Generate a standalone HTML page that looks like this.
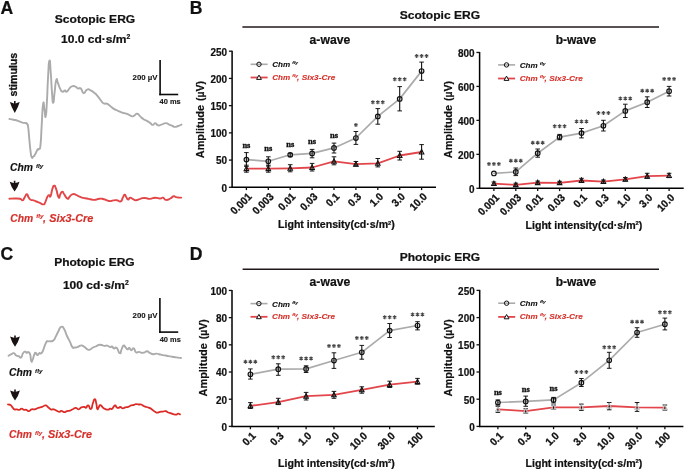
<!DOCTYPE html>
<html><head><meta charset="utf-8"><style>
html,body{margin:0;padding:0;background:#fff;}
svg{display:block;font-family:"Liberation Sans", sans-serif;filter:blur(0.3px);}
</style></head><body>
<svg width="685" height="470" viewBox="0 0 685 470">
<rect width="685" height="470" fill="#fff"/>
<text x="0.6" y="13.8" font-size="17.6" font-weight="bold" fill="#111" stroke="#111" stroke-width="0.22">A</text>
<text x="189.8" y="13.9" font-size="17.6" font-weight="bold" fill="#111" stroke="#111" stroke-width="0.22">B</text>
<text x="0.4" y="259.5" font-size="17.6" font-weight="bold" fill="#111" stroke="#111" stroke-width="0.22">C</text>
<text x="189.8" y="259.8" font-size="17.6" font-weight="bold" fill="#111" stroke="#111" stroke-width="0.22">D</text>
<text x="95" y="23" font-size="11.2" font-weight="bold" text-anchor="middle" textLength="80.5" lengthAdjust="spacingAndGlyphs" fill="#111" stroke="#111" stroke-width="0.22">Scotopic ERG</text>
<text x="61.0" y="43.1" font-size="11.2" font-weight="bold" textLength="69.3" lengthAdjust="spacingAndGlyphs" fill="#111" stroke="#111" stroke-width="0.22">10.0 cd·s/m<tspan font-size="6.3" dy="-4.1">2</tspan></text>
<text transform="translate(17.4,96.4) rotate(-90)" font-size="10.6" font-weight="bold" fill="#111" stroke="#111" stroke-width="0.3" textLength="43.6" lengthAdjust="spacingAndGlyphs">stimulus</text>
<path d="M14.00,101.10 L15.60,101.10 L15.60,103.40 Q17.40,102.80 19.70,102.10 Q18.40,107.10 14.80,112.90 Q11.20,107.10 9.90,102.10 Q12.20,102.80 14.00,103.40 Z" fill="#1a1212"/>
<path d="M9.40,119.00 C10.73,119.23 10.57,119.10 13.40,119.70 C16.23,120.30 14.93,119.83 17.90,120.80 C20.87,121.77 19.70,121.87 22.30,122.60 C24.90,123.33 24.07,122.47 25.70,123.00 C27.33,123.53 26.37,122.73 27.20,124.20 C28.03,125.67 27.50,122.43 28.20,127.40 C28.90,132.37 28.53,131.30 29.30,139.10 C30.07,146.90 29.70,144.80 30.50,150.80 C31.30,156.80 30.77,155.17 31.70,157.10 C32.63,159.03 32.13,157.53 33.30,156.60 C34.47,155.67 33.80,156.63 35.20,154.30 C36.60,151.97 36.17,151.40 37.50,149.60 C38.83,147.80 38.17,150.83 39.20,148.90 C40.23,146.97 39.77,151.73 40.60,143.80 C41.43,135.87 40.87,138.33 41.70,125.10 C42.53,111.87 42.17,109.17 43.10,104.10 C44.03,99.03 43.63,105.87 44.50,109.90 C45.37,113.93 44.90,118.93 45.70,116.20 C46.50,113.47 46.13,114.30 46.90,101.70 C47.67,89.10 47.17,92.03 48.00,78.40 C48.83,64.77 48.47,62.37 49.40,60.80 C50.33,59.23 49.93,63.17 50.80,73.70 C51.67,84.23 51.20,82.67 52.00,92.40 C52.80,102.13 52.33,102.90 53.20,102.90 C54.07,102.90 53.60,99.97 54.60,92.40 C55.60,84.83 55.10,83.33 56.20,80.20 C57.30,77.07 56.57,80.10 57.90,83.00 C59.23,85.90 58.67,86.00 60.20,88.90 C61.73,91.80 60.93,91.17 62.50,91.70 C64.07,92.23 63.50,90.50 64.90,90.50 C66.30,90.50 65.30,92.23 66.70,91.70 C68.10,91.17 67.53,90.57 69.10,88.90 C70.67,87.23 69.50,87.57 71.40,86.70 C73.30,85.83 72.57,85.70 74.80,86.30 C77.03,86.90 76.10,87.77 78.10,88.50 C80.10,89.23 78.93,87.00 80.80,88.50 C82.67,90.00 81.63,92.63 83.70,93.00 C85.77,93.37 84.77,90.50 87.00,89.60 C89.23,88.70 87.90,89.17 90.40,90.30 C92.90,91.43 92.03,91.00 94.50,93.00 C96.97,95.00 95.57,93.70 97.80,96.30 C100.03,98.90 99.20,98.43 101.20,100.80 C103.20,103.17 101.97,102.43 103.80,103.40 C105.63,104.37 104.60,102.87 106.70,103.70 C108.80,104.53 107.87,104.27 110.10,105.90 C112.33,107.53 110.80,106.97 113.40,108.60 C116.00,110.23 114.90,109.47 117.90,110.80 C120.90,112.13 119.80,111.70 122.40,112.60 C125.00,113.50 123.50,112.77 125.70,113.50 C127.90,114.23 126.77,113.83 129.00,114.80 C131.23,115.77 130.53,116.23 132.40,116.40 C134.27,116.57 132.97,116.20 134.60,115.30 C136.23,114.40 135.43,113.33 137.30,113.70 C139.17,114.07 138.10,114.53 140.20,116.40 C142.30,118.27 141.37,117.83 143.60,119.30 C145.83,120.77 144.67,119.53 146.90,120.80 C149.13,122.07 148.30,121.73 150.30,123.10 C152.30,124.47 151.27,124.90 152.90,124.90 C154.53,124.90 153.47,122.97 155.20,123.10 C156.93,123.23 156.03,124.80 158.10,125.30 C160.17,125.80 158.80,125.33 161.40,124.60 C164.00,123.87 163.30,123.10 165.90,123.10 C168.50,123.10 166.97,123.63 169.20,124.60 C171.43,125.57 170.73,125.23 172.60,126.00 C174.47,126.77 172.93,126.90 174.80,126.90 C176.67,126.90 175.97,126.77 178.20,126.00 C180.43,125.23 180.40,125.07 181.50,124.60" fill="none" stroke="#ababab" stroke-width="1.9" stroke-linejoin="round" stroke-linecap="round"/>
<line x1="160.1" y1="60.1" x2="160.1" y2="95.3" stroke="#0a0a0a" stroke-width="1.6"/>
<line x1="159.3" y1="94.5" x2="178.2" y2="94.5" stroke="#0a0a0a" stroke-width="1.6"/>
<text x="157.6" y="80" font-size="7.6" font-weight="bold" text-anchor="end" textLength="25" lengthAdjust="spacingAndGlyphs" fill="#111" stroke="#111" stroke-width="0.1">200 µV</text>
<text x="159.5" y="104.1" font-size="7.6" font-weight="bold" textLength="21.2" lengthAdjust="spacingAndGlyphs" fill="#111" stroke="#111" stroke-width="0.1">40 ms</text>
<text x="10.0" y="171.4" font-size="10" font-weight="bold" font-style="italic" textLength="22.9" lengthAdjust="spacingAndGlyphs" fill="#111" stroke="#111" stroke-width="0.15">Chm</text>
<text x="36.0" y="168.1" font-size="5.6" font-weight="bold" font-style="italic" textLength="7.4" lengthAdjust="spacingAndGlyphs" fill="#111" stroke="#111" stroke-width="0.1">fly</text>
<path d="M13.80,180.70 L15.40,180.70 L15.40,183.00 Q17.20,182.40 19.50,181.70 Q18.20,186.70 14.60,191.60 Q11.00,186.70 9.70,181.70 Q12.00,182.40 13.80,183.00 Z" fill="#1a1212"/>
<path d="M9.40,198.80 C11.10,198.70 11.00,198.50 14.50,198.50 C18.00,198.50 17.20,198.20 19.90,198.80 C22.60,199.40 21.10,200.60 22.60,200.30 C24.10,200.00 23.00,199.90 24.40,197.90 C25.80,195.90 25.40,194.47 26.80,194.30 C28.20,194.13 27.30,195.60 28.60,197.40 C29.90,199.20 29.07,198.73 30.70,199.70 C32.33,200.67 31.67,199.70 33.50,200.30 C35.33,200.90 34.10,200.67 36.20,201.50 C38.30,202.33 37.40,201.83 39.80,202.80 C42.20,203.77 41.60,204.53 43.40,204.40 C45.20,204.27 43.87,204.97 45.20,202.40 C46.53,199.83 46.07,199.10 47.40,196.70 C48.73,194.30 48.13,195.40 49.20,195.20 C50.27,195.00 49.53,198.20 50.60,196.10 C51.67,194.00 51.20,192.33 52.40,188.90 C53.60,185.47 52.97,185.80 54.20,185.80 C55.43,185.80 54.63,185.07 56.10,188.90 C57.57,192.73 57.20,195.50 58.60,197.30 C60.00,199.10 59.07,196.20 60.30,194.30 C61.53,192.40 61.00,191.60 62.30,191.60 C63.60,191.60 62.50,191.97 64.20,194.30 C65.90,196.63 65.60,197.80 67.40,198.60 C69.20,199.40 67.97,198.13 69.60,196.70 C71.23,195.27 70.20,194.93 72.30,194.30 C74.40,193.67 73.47,194.00 75.90,194.80 C78.33,195.60 77.17,195.67 79.60,196.70 C82.03,197.73 80.80,197.30 83.20,197.90 C85.60,198.50 84.40,198.07 86.80,198.50 C89.20,198.93 87.87,198.73 90.40,199.20 C92.93,199.67 91.37,200.03 94.40,199.90 C97.43,199.77 96.33,199.03 99.50,198.80 C102.67,198.57 100.73,198.47 103.90,199.20 C107.07,199.93 105.83,200.60 109.00,201.00 C112.17,201.40 110.73,200.67 113.40,200.40 C116.07,200.13 114.57,199.87 117.00,200.20 C119.43,200.53 118.77,202.23 120.70,201.40 C122.63,200.57 121.50,199.90 122.80,197.70 C124.10,195.50 123.47,195.03 124.60,194.80 C125.73,194.57 125.00,195.40 126.20,197.00 C127.40,198.60 126.90,199.37 128.20,199.60 C129.50,199.83 128.47,197.83 130.10,197.70 C131.73,197.57 131.13,198.37 133.10,199.20 C135.07,200.03 133.57,200.33 136.00,200.20 C138.43,200.07 137.50,199.53 140.40,198.80 C143.30,198.07 141.53,197.97 144.70,198.00 C147.87,198.03 146.47,199.00 149.90,198.90 C153.33,198.80 151.63,197.83 155.00,197.70 C158.37,197.57 157.33,198.50 160.00,198.50 C162.67,198.50 161.03,197.23 163.00,197.70 C164.97,198.17 163.47,199.63 165.90,199.90 C168.33,200.17 167.77,199.70 170.30,198.50 C172.83,197.30 171.57,196.73 173.50,196.30 C175.43,195.87 174.27,196.77 176.10,197.20 C177.93,197.63 177.30,197.47 179.00,197.60 C180.70,197.73 180.47,197.60 181.20,197.60" fill="none" stroke="#e24647" stroke-width="1.9" stroke-linejoin="round" stroke-linecap="round"/>
<text x="10.2" y="221.6" font-size="10" font-weight="bold" font-style="italic" textLength="22.9" lengthAdjust="spacingAndGlyphs" fill="#d5302a" stroke="#d5302a" stroke-width="0.15">Chm</text>
<text x="36.2" y="218.29999999999998" font-size="5.6" font-weight="bold" font-style="italic" textLength="7.4" lengthAdjust="spacingAndGlyphs" fill="#d5302a" stroke="#d5302a" stroke-width="0.1">fly</text>
<text x="43.099999999999994" y="221.6" font-size="10" font-weight="bold" font-style="italic" textLength="50.2" lengthAdjust="spacingAndGlyphs" fill="#d5302a" stroke="#d5302a" stroke-width="0.15">, Six3-Cre</text>
<text x="94.4" y="266.4" font-size="11.2" font-weight="bold" text-anchor="middle" textLength="80.5" lengthAdjust="spacingAndGlyphs" fill="#111" stroke="#111" stroke-width="0.22">Photopic ERG</text>
<text x="62.9" y="288.8" font-size="11.2" font-weight="bold" textLength="65.8" lengthAdjust="spacingAndGlyphs" fill="#111" stroke="#111" stroke-width="0.22">100 cd·s/m<tspan font-size="6.3" dy="-4.1">2</tspan></text>
<path d="M14.20,335.40 L15.80,335.40 L15.80,337.70 Q17.60,337.10 19.90,336.40 Q18.60,341.40 15.00,346.80 Q11.40,341.40 10.10,336.40 Q12.40,337.10 14.20,337.70 Z" fill="#1a1212"/>
<path d="M8.60,355.70 C9.57,355.20 9.77,355.03 11.50,354.20 C13.23,353.37 12.20,352.77 13.80,353.20 C15.40,353.63 14.70,354.53 16.30,355.50 C17.90,356.47 17.00,355.47 18.60,356.10 C20.20,356.73 19.63,358.37 21.10,357.40 C22.57,356.43 21.60,355.10 23.00,353.20 C24.40,351.30 24.03,351.83 25.30,351.70 C26.57,351.57 25.67,352.60 26.80,352.80 C27.93,353.00 27.53,351.53 28.70,352.30 C29.87,353.07 29.47,352.23 30.30,355.10 C31.13,357.97 30.43,359.30 31.20,360.90 C31.97,362.50 31.63,361.83 32.60,359.90 C33.57,357.97 33.10,357.47 34.10,355.10 C35.10,352.73 34.50,352.80 35.60,352.80 C36.70,352.80 36.17,354.97 37.40,355.10 C38.63,355.23 38.03,353.83 39.30,353.20 C40.57,352.57 39.93,354.17 41.20,353.20 C42.47,352.23 41.50,353.80 43.10,350.30 C44.70,346.80 44.27,345.70 46.00,342.70 C47.73,339.70 46.70,341.77 48.30,341.30 C49.90,340.83 49.03,341.67 50.80,341.30 C52.57,340.93 52.00,341.67 53.60,340.20 C55.20,338.73 54.00,339.90 55.60,336.90 C57.20,333.90 56.50,334.57 58.40,331.20 C60.30,327.83 59.37,327.43 61.30,326.80 C63.23,326.17 62.30,326.23 64.20,329.30 C66.10,332.37 65.10,331.87 67.00,336.00 C68.90,340.13 68.10,338.00 69.90,341.70 C71.70,345.40 70.80,345.17 72.40,347.10 C74.00,349.03 72.97,347.50 74.70,347.50 C76.43,347.50 75.67,347.73 77.60,347.10 C79.53,346.47 78.60,345.93 80.50,345.60 C82.40,345.27 81.40,345.17 83.30,346.10 C85.20,347.03 84.27,347.17 86.20,348.40 C88.13,349.63 86.87,350.10 89.10,349.80 C91.33,349.50 90.70,348.60 92.90,347.50 C95.10,346.40 93.80,347.33 95.70,346.50 C97.60,345.67 96.67,345.50 98.60,345.00 C100.53,344.50 99.57,344.70 101.50,345.00 C103.43,345.30 102.50,345.70 104.40,345.90 C106.30,346.10 105.30,345.20 107.20,345.60 C109.10,346.00 108.50,346.80 110.10,347.10 C111.70,347.40 110.73,346.07 112.00,346.50 C113.27,346.93 112.30,347.93 113.90,348.40 C115.50,348.87 114.87,346.30 116.80,347.90 C118.73,349.50 118.10,352.70 119.70,353.20 C121.30,353.70 120.33,351.93 121.60,349.40 C122.87,346.87 122.23,346.37 123.50,345.60 C124.77,344.83 124.10,345.83 125.40,347.10 C126.70,348.37 126.10,349.10 127.40,349.40 C128.70,349.70 128.03,347.70 129.30,348.00 C130.57,348.30 129.73,350.17 131.20,350.30 C132.67,350.43 132.10,347.73 133.70,348.40 C135.30,349.07 134.27,351.13 136.00,352.30 C137.73,353.47 137.00,351.73 138.90,351.90 C140.80,352.07 139.80,352.67 141.70,352.80 C143.60,352.93 142.80,352.80 144.60,352.30 C146.40,351.80 145.37,351.13 147.10,351.30 C148.83,351.47 147.77,351.83 149.80,352.80 C151.83,353.77 151.10,353.93 153.20,354.20 C155.30,354.47 154.17,353.60 156.10,353.60 C158.03,353.60 156.77,353.70 159.00,354.20 C161.23,354.70 160.57,354.67 162.80,355.10 C165.03,355.53 163.80,355.17 165.70,355.50 C167.60,355.83 166.27,355.70 168.50,356.10 C170.73,356.50 169.83,356.27 172.40,356.70 C174.97,357.13 173.33,356.97 176.20,357.40 C179.07,357.83 179.40,357.80 181.00,358.00" fill="none" stroke="#ababab" stroke-width="1.9" stroke-linejoin="round" stroke-linecap="round"/>
<line x1="159.9" y1="298" x2="159.9" y2="332.9" stroke="#0a0a0a" stroke-width="1.6"/>
<line x1="159.1" y1="332.1" x2="178.2" y2="332.1" stroke="#0a0a0a" stroke-width="1.6"/>
<text x="157.6" y="317.8" font-size="7.6" font-weight="bold" text-anchor="end" textLength="25" lengthAdjust="spacingAndGlyphs" fill="#111" stroke="#111" stroke-width="0.1">200 µV</text>
<text x="159.7" y="341.7" font-size="7.6" font-weight="bold" textLength="21.2" lengthAdjust="spacingAndGlyphs" fill="#111" stroke="#111" stroke-width="0.1">40 ms</text>
<text x="9.1" y="376.2" font-size="10" font-weight="bold" font-style="italic" textLength="22.9" lengthAdjust="spacingAndGlyphs" fill="#111" stroke="#111" stroke-width="0.15">Chm</text>
<text x="35.1" y="372.9" font-size="5.6" font-weight="bold" font-style="italic" textLength="7.4" lengthAdjust="spacingAndGlyphs" fill="#111" stroke="#111" stroke-width="0.1">fly</text>
<path d="M14.20,389.40 L15.80,389.40 L15.80,391.70 Q17.60,391.10 19.90,390.40 Q18.60,395.40 15.00,400.60 Q11.40,395.40 10.10,390.40 Q12.40,391.10 14.20,391.70 Z" fill="#1a1212"/>
<path d="M8.00,404.50 C8.83,404.70 9.00,404.13 10.50,405.10 C12.00,406.07 11.20,406.00 12.50,407.40 C13.80,408.80 12.93,408.67 14.40,409.30 C15.87,409.93 15.30,409.13 16.90,409.30 C18.50,409.47 17.67,410.00 19.20,409.80 C20.73,409.60 19.93,408.70 21.50,408.70 C23.07,408.70 22.27,409.43 23.90,409.80 C25.53,410.17 24.80,409.33 26.40,409.80 C28.00,410.27 26.97,411.37 28.70,411.20 C30.43,411.03 29.67,409.93 31.60,409.30 C33.53,408.67 32.27,409.77 34.50,409.30 C36.73,408.83 35.77,408.73 38.30,407.90 C40.83,407.07 39.67,407.63 42.10,406.80 C44.53,405.97 43.67,405.33 45.60,405.40 C47.53,405.47 46.17,405.70 47.90,407.00 C49.63,408.30 48.90,408.53 50.80,409.30 C52.70,410.07 51.70,408.87 53.60,409.30 C55.50,409.73 54.57,409.77 56.50,410.60 C58.43,411.43 57.80,411.73 59.40,411.80 C61.00,411.87 59.70,410.70 61.30,410.80 C62.90,410.90 62.30,411.97 64.20,412.10 C66.10,412.23 65.10,411.70 67.00,411.20 C68.90,410.70 67.97,411.23 69.90,410.60 C71.83,409.97 70.87,410.20 72.80,409.30 C74.73,408.40 73.80,407.90 75.70,407.90 C77.60,407.90 76.60,409.47 78.50,409.30 C80.40,409.13 79.47,408.17 81.40,407.40 C83.33,406.63 82.70,406.93 84.30,407.00 C85.90,407.07 84.90,408.13 86.20,407.60 C87.50,407.07 86.60,404.93 88.20,405.40 C89.80,405.87 89.47,409.63 91.00,409.00 C92.53,408.37 91.53,406.77 92.80,403.50 C94.07,400.23 93.63,399.20 94.80,399.20 C95.97,399.20 95.47,400.23 96.30,403.50 C97.13,406.77 96.47,407.77 97.30,409.00 C98.13,410.23 97.73,408.47 98.80,407.20 C99.87,405.93 98.87,404.87 100.50,405.20 C102.13,405.53 101.33,406.70 103.70,408.20 C106.07,409.70 105.47,409.53 107.60,409.70 C109.73,409.87 108.63,408.97 110.10,408.70 C111.57,408.43 110.73,409.67 112.00,408.90 C113.27,408.13 112.80,407.57 113.90,406.40 C115.00,405.23 114.33,405.07 115.30,405.40 C116.27,405.73 115.67,406.57 116.80,407.40 C117.93,408.23 117.53,408.03 118.70,407.90 C119.87,407.77 119.00,406.87 120.30,407.00 C121.60,407.13 120.90,408.17 122.60,408.30 C124.30,408.43 123.50,407.90 125.40,407.40 C127.30,406.90 126.37,407.47 128.30,406.80 C130.23,406.13 129.27,406.03 131.20,405.40 C133.13,404.77 132.50,405.33 134.10,404.90 C135.70,404.47 134.40,404.23 136.00,404.10 C137.60,403.97 137.13,404.37 138.90,404.50 C140.67,404.63 139.73,404.00 141.30,404.50 C142.87,405.00 141.87,405.17 143.60,406.00 C145.33,406.83 144.57,406.37 146.50,407.00 C148.43,407.63 147.47,407.00 149.40,407.90 C151.33,408.80 150.40,408.40 152.30,409.70 C154.20,411.00 153.40,410.80 155.10,411.80 C156.80,412.80 155.80,412.70 157.40,412.70 C159.00,412.70 158.10,412.17 159.90,411.80 C161.70,411.43 160.87,411.80 162.80,411.60 C164.73,411.40 163.90,410.90 165.70,411.20 C167.50,411.50 166.60,411.87 168.20,412.50 C169.80,413.13 168.80,412.57 170.50,413.10 C172.20,413.63 171.40,413.60 173.30,414.10 C175.20,414.60 174.60,414.73 176.20,414.60 C177.80,414.47 176.83,413.77 178.10,413.70 C179.37,413.63 179.37,414.17 180.00,414.40" fill="none" stroke="#dc2b26" stroke-width="1.8" stroke-linejoin="round" stroke-linecap="round"/>
<text x="9" y="437.8" font-size="10" font-weight="bold" font-style="italic" textLength="22.9" lengthAdjust="spacingAndGlyphs" fill="#d5302a" stroke="#d5302a" stroke-width="0.15">Chm</text>
<text x="35.0" y="434.5" font-size="5.6" font-weight="bold" font-style="italic" textLength="7.4" lengthAdjust="spacingAndGlyphs" fill="#d5302a" stroke="#d5302a" stroke-width="0.1">fly</text>
<text x="41.9" y="437.8" font-size="10" font-weight="bold" font-style="italic" textLength="50.2" lengthAdjust="spacingAndGlyphs" fill="#d5302a" stroke="#d5302a" stroke-width="0.15">, Six3-Cre</text>
<text x="439.9" y="19.0" font-size="11.2" font-weight="bold" text-anchor="middle" textLength="80.5" lengthAdjust="spacingAndGlyphs" fill="#111" stroke="#111" stroke-width="0.22">Scotopic ERG</text>
<line x1="242.4" y1="27.0" x2="659" y2="27.0" stroke="#201818" stroke-width="1.5"/>
<text x="439.9" y="261.2" font-size="11.2" font-weight="bold" text-anchor="middle" textLength="80.5" lengthAdjust="spacingAndGlyphs" fill="#111" stroke="#111" stroke-width="0.22">Photopic ERG</text>
<line x1="242.6" y1="269.25" x2="659" y2="269.25" stroke="#201818" stroke-width="1.5"/>
<line x1="232.1" y1="50.7" x2="232.1" y2="188.0" stroke="#000" stroke-width="1.5"/>
<line x1="231.35" y1="187.3" x2="436" y2="187.3" stroke="#000" stroke-width="1.5"/>
<line x1="228.9" y1="187.3" x2="232.1" y2="187.3" stroke="#111" stroke-width="1.3"/>
<text x="227.1" y="191.60000000000002" font-size="10.1" font-weight="bold" text-anchor="end" textLength="5.533333333333334" lengthAdjust="spacingAndGlyphs" fill="#111" stroke="#111" stroke-width="0.2">0</text>
<line x1="228.9" y1="160.08" x2="232.1" y2="160.08" stroke="#111" stroke-width="1.3"/>
<text x="227.1" y="164.38000000000002" font-size="10.1" font-weight="bold" text-anchor="end" textLength="11.066666666666668" lengthAdjust="spacingAndGlyphs" fill="#111" stroke="#111" stroke-width="0.2">50</text>
<line x1="228.9" y1="132.86" x2="232.1" y2="132.86" stroke="#111" stroke-width="1.3"/>
<text x="227.1" y="137.16000000000003" font-size="10.1" font-weight="bold" text-anchor="end" textLength="16.6" lengthAdjust="spacingAndGlyphs" fill="#111" stroke="#111" stroke-width="0.2">100</text>
<line x1="228.9" y1="105.64" x2="232.1" y2="105.64" stroke="#111" stroke-width="1.3"/>
<text x="227.1" y="109.94" font-size="10.1" font-weight="bold" text-anchor="end" textLength="16.6" lengthAdjust="spacingAndGlyphs" fill="#111" stroke="#111" stroke-width="0.2">150</text>
<line x1="228.9" y1="78.41999999999999" x2="232.1" y2="78.41999999999999" stroke="#111" stroke-width="1.3"/>
<text x="227.1" y="82.71999999999998" font-size="10.1" font-weight="bold" text-anchor="end" textLength="16.6" lengthAdjust="spacingAndGlyphs" fill="#111" stroke="#111" stroke-width="0.2">200</text>
<line x1="228.9" y1="51.19999999999999" x2="232.1" y2="51.19999999999999" stroke="#111" stroke-width="1.3"/>
<text x="227.1" y="55.499999999999986" font-size="10.1" font-weight="bold" text-anchor="end" textLength="16.6" lengthAdjust="spacingAndGlyphs" fill="#111" stroke="#111" stroke-width="0.2">250</text>
<line x1="246.4" y1="187.3" x2="246.4" y2="190.10000000000002" stroke="#111" stroke-width="1.3"/>
<text transform="translate(252.50,197.40) rotate(-45)" font-size="10.7" font-weight="bold" text-anchor="end" fill="#111" stroke="#111" stroke-width="0.3" textLength="25.02" lengthAdjust="spacingAndGlyphs">0.001</text>
<line x1="268.3" y1="187.3" x2="268.3" y2="190.10000000000002" stroke="#111" stroke-width="1.3"/>
<text transform="translate(274.40,197.40) rotate(-45)" font-size="10.7" font-weight="bold" text-anchor="end" fill="#111" stroke="#111" stroke-width="0.3" textLength="25.02" lengthAdjust="spacingAndGlyphs">0.003</text>
<line x1="290.2" y1="187.3" x2="290.2" y2="190.10000000000002" stroke="#111" stroke-width="1.3"/>
<text transform="translate(296.30,197.40) rotate(-45)" font-size="10.7" font-weight="bold" text-anchor="end" fill="#111" stroke="#111" stroke-width="0.3" textLength="19.46" lengthAdjust="spacingAndGlyphs">0.01</text>
<line x1="312.1" y1="187.3" x2="312.1" y2="190.10000000000002" stroke="#111" stroke-width="1.3"/>
<text transform="translate(318.20,197.40) rotate(-45)" font-size="10.7" font-weight="bold" text-anchor="end" fill="#111" stroke="#111" stroke-width="0.3" textLength="19.46" lengthAdjust="spacingAndGlyphs">0.03</text>
<line x1="334.0" y1="187.3" x2="334.0" y2="190.10000000000002" stroke="#111" stroke-width="1.3"/>
<text transform="translate(340.10,197.40) rotate(-45)" font-size="10.7" font-weight="bold" text-anchor="end" fill="#111" stroke="#111" stroke-width="0.3" textLength="13.90" lengthAdjust="spacingAndGlyphs">0.1</text>
<line x1="355.9" y1="187.3" x2="355.9" y2="190.10000000000002" stroke="#111" stroke-width="1.3"/>
<text transform="translate(362.00,197.40) rotate(-45)" font-size="10.7" font-weight="bold" text-anchor="end" fill="#111" stroke="#111" stroke-width="0.3" textLength="13.90" lengthAdjust="spacingAndGlyphs">0.3</text>
<line x1="377.79999999999995" y1="187.3" x2="377.79999999999995" y2="190.10000000000002" stroke="#111" stroke-width="1.3"/>
<text transform="translate(383.90,197.40) rotate(-45)" font-size="10.7" font-weight="bold" text-anchor="end" fill="#111" stroke="#111" stroke-width="0.3" textLength="13.90" lengthAdjust="spacingAndGlyphs">1.0</text>
<line x1="399.7" y1="187.3" x2="399.7" y2="190.10000000000002" stroke="#111" stroke-width="1.3"/>
<text transform="translate(405.80,197.40) rotate(-45)" font-size="10.7" font-weight="bold" text-anchor="end" fill="#111" stroke="#111" stroke-width="0.3" textLength="13.90" lengthAdjust="spacingAndGlyphs">3.0</text>
<line x1="421.6" y1="187.3" x2="421.6" y2="190.10000000000002" stroke="#111" stroke-width="1.3"/>
<text transform="translate(427.70,197.40) rotate(-45)" font-size="10.7" font-weight="bold" text-anchor="end" fill="#111" stroke="#111" stroke-width="0.3" textLength="19.46" lengthAdjust="spacingAndGlyphs">10.0</text>
<text x="329.9" y="43.5" font-size="12.6" font-weight="bold" text-anchor="middle" textLength="40.6" lengthAdjust="spacingAndGlyphs" fill="#111" stroke="#111" stroke-width="0.22">a-wave</text>
<text transform="translate(204.10,158.20) rotate(-90)" font-size="10.6" font-weight="bold" fill="#111" stroke="#111" stroke-width="0.2" textLength="53.2" lengthAdjust="spacingAndGlyphs">Amplitude</text>
<text transform="translate(204.10,101.00) rotate(-90)" font-size="10.6" font-weight="bold" fill="#111" stroke="#111" stroke-width="0.2" textLength="20.0" lengthAdjust="spacingAndGlyphs">(µV)</text>
<text x="278.0" y="228.2" font-size="10.6" font-weight="bold" fill="#111" stroke="#111" stroke-width="0.22">Light intensity(cd·s/m<tspan font-size="5.8" dy="-3.6">2</tspan><tspan dy="3.6">)</tspan></text>
<polyline points="246.4,159.6 268.3,161.3 290.2,154.8 312.1,153.4 334.0,147.9 355.9,138.0 377.8,116.4 399.7,98.9 421.6,71.1" fill="none" stroke="#ababab" stroke-width="1.7" stroke-linejoin="round" stroke-linecap="round"/>
<polyline points="246.4,168.7 268.3,168.7 290.2,168.3 312.1,167.5 334.0,161.4 355.9,164.2 377.8,163.4 399.7,155.5 421.6,152.0" fill="none" stroke="#e2464b" stroke-width="1.8" stroke-linejoin="round" stroke-linecap="round"/>
<line x1="246.4" y1="152.6" x2="246.4" y2="166.4" stroke="#111" stroke-width="1.1"/>
<line x1="244.1" y1="152.6" x2="248.70000000000002" y2="152.6" stroke="#111" stroke-width="0.95"/>
<line x1="244.1" y1="166.4" x2="248.70000000000002" y2="166.4" stroke="#111" stroke-width="0.95"/>
<circle cx="246.40" cy="159.60" r="2.3" fill="none" stroke="#111" stroke-width="1.15"/>
<line x1="268.3" y1="156.8" x2="268.3" y2="166.1" stroke="#111" stroke-width="1.1"/>
<line x1="266.0" y1="156.8" x2="270.6" y2="156.8" stroke="#111" stroke-width="0.95"/>
<line x1="266.0" y1="166.1" x2="270.6" y2="166.1" stroke="#111" stroke-width="0.95"/>
<circle cx="268.30" cy="161.30" r="2.3" fill="none" stroke="#111" stroke-width="1.15"/>
<line x1="290.2" y1="153.3" x2="290.2" y2="156.6" stroke="#111" stroke-width="1.1"/>
<line x1="287.9" y1="153.3" x2="292.5" y2="153.3" stroke="#111" stroke-width="0.95"/>
<line x1="287.9" y1="156.6" x2="292.5" y2="156.6" stroke="#111" stroke-width="0.95"/>
<circle cx="290.20" cy="154.80" r="2.3" fill="none" stroke="#111" stroke-width="1.15"/>
<line x1="312.1" y1="149.4" x2="312.1" y2="157.8" stroke="#111" stroke-width="1.1"/>
<line x1="309.8" y1="149.4" x2="314.40000000000003" y2="149.4" stroke="#111" stroke-width="0.95"/>
<line x1="309.8" y1="157.8" x2="314.40000000000003" y2="157.8" stroke="#111" stroke-width="0.95"/>
<circle cx="312.10" cy="153.40" r="2.3" fill="none" stroke="#111" stroke-width="1.15"/>
<line x1="334.0" y1="143.1" x2="334.0" y2="153.0" stroke="#111" stroke-width="1.1"/>
<line x1="331.7" y1="143.1" x2="336.3" y2="143.1" stroke="#111" stroke-width="0.95"/>
<line x1="331.7" y1="153.0" x2="336.3" y2="153.0" stroke="#111" stroke-width="0.95"/>
<circle cx="334.00" cy="147.90" r="2.3" fill="none" stroke="#111" stroke-width="1.15"/>
<line x1="355.9" y1="131.5" x2="355.9" y2="144.4" stroke="#111" stroke-width="1.1"/>
<line x1="353.59999999999997" y1="131.5" x2="358.2" y2="131.5" stroke="#111" stroke-width="0.95"/>
<line x1="353.59999999999997" y1="144.4" x2="358.2" y2="144.4" stroke="#111" stroke-width="0.95"/>
<circle cx="355.90" cy="138.00" r="2.3" fill="none" stroke="#111" stroke-width="1.15"/>
<line x1="377.79999999999995" y1="108.6" x2="377.79999999999995" y2="124.2" stroke="#111" stroke-width="1.1"/>
<line x1="375.49999999999994" y1="108.6" x2="380.09999999999997" y2="108.6" stroke="#111" stroke-width="0.95"/>
<line x1="375.49999999999994" y1="124.2" x2="380.09999999999997" y2="124.2" stroke="#111" stroke-width="0.95"/>
<circle cx="377.80" cy="116.40" r="2.3" fill="none" stroke="#111" stroke-width="1.15"/>
<line x1="399.7" y1="86.6" x2="399.7" y2="110.9" stroke="#111" stroke-width="1.1"/>
<line x1="397.4" y1="86.6" x2="402.0" y2="86.6" stroke="#111" stroke-width="0.95"/>
<line x1="397.4" y1="110.9" x2="402.0" y2="110.9" stroke="#111" stroke-width="0.95"/>
<circle cx="399.70" cy="98.90" r="2.3" fill="none" stroke="#111" stroke-width="1.15"/>
<line x1="421.6" y1="62.1" x2="421.6" y2="80.3" stroke="#111" stroke-width="1.1"/>
<line x1="419.3" y1="62.1" x2="423.90000000000003" y2="62.1" stroke="#111" stroke-width="0.95"/>
<line x1="419.3" y1="80.3" x2="423.90000000000003" y2="80.3" stroke="#111" stroke-width="0.95"/>
<circle cx="421.60" cy="71.10" r="2.3" fill="none" stroke="#111" stroke-width="1.15"/>
<line x1="246.4" y1="165.2" x2="246.4" y2="172.2" stroke="#111" stroke-width="1.1"/>
<line x1="244.1" y1="165.2" x2="248.70000000000002" y2="165.2" stroke="#111" stroke-width="0.95"/>
<line x1="244.1" y1="172.2" x2="248.70000000000002" y2="172.2" stroke="#111" stroke-width="0.95"/>
<path d="M244.10,170.60 L248.70,170.60 L246.40,166.20 Z" fill="none" stroke="#111" stroke-width="1.05" stroke-linejoin="miter"/>
<line x1="268.3" y1="165.2" x2="268.3" y2="172.2" stroke="#111" stroke-width="1.1"/>
<line x1="266.0" y1="165.2" x2="270.6" y2="165.2" stroke="#111" stroke-width="0.95"/>
<line x1="266.0" y1="172.2" x2="270.6" y2="172.2" stroke="#111" stroke-width="0.95"/>
<path d="M266.00,170.60 L270.60,170.60 L268.30,166.20 Z" fill="none" stroke="#111" stroke-width="1.05" stroke-linejoin="miter"/>
<line x1="290.2" y1="164.7" x2="290.2" y2="171.8" stroke="#111" stroke-width="1.1"/>
<line x1="287.9" y1="164.7" x2="292.5" y2="164.7" stroke="#111" stroke-width="0.95"/>
<line x1="287.9" y1="171.8" x2="292.5" y2="171.8" stroke="#111" stroke-width="0.95"/>
<path d="M287.90,170.20 L292.50,170.20 L290.20,165.80 Z" fill="none" stroke="#111" stroke-width="1.05" stroke-linejoin="miter"/>
<line x1="312.1" y1="163.4" x2="312.1" y2="171.0" stroke="#111" stroke-width="1.1"/>
<line x1="309.8" y1="163.4" x2="314.40000000000003" y2="163.4" stroke="#111" stroke-width="0.95"/>
<line x1="309.8" y1="171.0" x2="314.40000000000003" y2="171.0" stroke="#111" stroke-width="0.95"/>
<path d="M309.80,169.40 L314.40,169.40 L312.10,165.00 Z" fill="none" stroke="#111" stroke-width="1.05" stroke-linejoin="miter"/>
<line x1="334.0" y1="156.8" x2="334.0" y2="164.8" stroke="#111" stroke-width="1.1"/>
<line x1="331.7" y1="156.8" x2="336.3" y2="156.8" stroke="#111" stroke-width="0.95"/>
<line x1="331.7" y1="164.8" x2="336.3" y2="164.8" stroke="#111" stroke-width="0.95"/>
<path d="M331.70,163.30 L336.30,163.30 L334.00,158.90 Z" fill="none" stroke="#111" stroke-width="1.05" stroke-linejoin="miter"/>
<line x1="355.9" y1="161.5" x2="355.9" y2="166.0" stroke="#111" stroke-width="1.1"/>
<line x1="353.59999999999997" y1="161.5" x2="358.2" y2="161.5" stroke="#111" stroke-width="0.95"/>
<line x1="353.59999999999997" y1="166.0" x2="358.2" y2="166.0" stroke="#111" stroke-width="0.95"/>
<path d="M353.60,166.10 L358.20,166.10 L355.90,161.70 Z" fill="none" stroke="#111" stroke-width="1.05" stroke-linejoin="miter"/>
<line x1="377.79999999999995" y1="158.5" x2="377.79999999999995" y2="166.9" stroke="#111" stroke-width="1.1"/>
<line x1="375.49999999999994" y1="158.5" x2="380.09999999999997" y2="158.5" stroke="#111" stroke-width="0.95"/>
<line x1="375.49999999999994" y1="166.9" x2="380.09999999999997" y2="166.9" stroke="#111" stroke-width="0.95"/>
<path d="M375.50,165.30 L380.10,165.30 L377.80,160.90 Z" fill="none" stroke="#111" stroke-width="1.05" stroke-linejoin="miter"/>
<line x1="399.7" y1="151.3" x2="399.7" y2="160.0" stroke="#111" stroke-width="1.1"/>
<line x1="397.4" y1="151.3" x2="402.0" y2="151.3" stroke="#111" stroke-width="0.95"/>
<line x1="397.4" y1="160.0" x2="402.0" y2="160.0" stroke="#111" stroke-width="0.95"/>
<path d="M397.40,157.40 L402.00,157.40 L399.70,153.00 Z" fill="none" stroke="#111" stroke-width="1.05" stroke-linejoin="miter"/>
<line x1="421.6" y1="144.6" x2="421.6" y2="159.2" stroke="#111" stroke-width="1.1"/>
<line x1="419.3" y1="144.6" x2="423.90000000000003" y2="144.6" stroke="#111" stroke-width="0.95"/>
<line x1="419.3" y1="159.2" x2="423.90000000000003" y2="159.2" stroke="#111" stroke-width="0.95"/>
<path d="M419.30,153.90 L423.90,153.90 L421.60,149.50 Z" fill="none" stroke="#111" stroke-width="1.05" stroke-linejoin="miter"/>
<text x="246.4" y="148.0" font-size="8.8" font-weight="bold" text-anchor="middle" textLength="8.0" lengthAdjust="spacingAndGlyphs" font-family='"Liberation Serif", serif' fill="#111" stroke="#111" stroke-width="0.35">ns</text>
<text x="268.3" y="151.0" font-size="8.8" font-weight="bold" text-anchor="middle" textLength="8.0" lengthAdjust="spacingAndGlyphs" font-family='"Liberation Serif", serif' fill="#111" stroke="#111" stroke-width="0.35">ns</text>
<text x="290.2" y="146.79999999999998" font-size="8.8" font-weight="bold" text-anchor="middle" textLength="8.0" lengthAdjust="spacingAndGlyphs" font-family='"Liberation Serif", serif' fill="#111" stroke="#111" stroke-width="0.35">ns</text>
<text x="312.1" y="144.2" font-size="8.8" font-weight="bold" text-anchor="middle" textLength="8.0" lengthAdjust="spacingAndGlyphs" font-family='"Liberation Serif", serif' fill="#111" stroke="#111" stroke-width="0.35">ns</text>
<text x="334.0" y="137.7" font-size="8.8" font-weight="bold" text-anchor="middle" textLength="8.0" lengthAdjust="spacingAndGlyphs" font-family='"Liberation Serif", serif' fill="#111" stroke="#111" stroke-width="0.35">ns</text>
<path d="M355.90,122.90 L355.90,126.90 M354.15,123.90 L357.65,125.90 M354.15,125.90 L357.65,123.90" stroke="#474747" stroke-width="1.15" fill="none"/>
<path d="M372.85,100.20 L372.85,104.20 M371.10,101.20 L374.60,103.20 M371.10,103.20 L374.60,101.20" stroke="#474747" stroke-width="1.15" fill="none"/>
<path d="M377.80,100.20 L377.80,104.20 M376.05,101.20 L379.55,103.20 M376.05,103.20 L379.55,101.20" stroke="#474747" stroke-width="1.15" fill="none"/>
<path d="M382.75,100.20 L382.75,104.20 M381.00,101.20 L384.50,103.20 M381.00,103.20 L384.50,101.20" stroke="#474747" stroke-width="1.15" fill="none"/>
<path d="M394.75,77.30 L394.75,81.30 M393.00,78.30 L396.50,80.30 M393.00,80.30 L396.50,78.30" stroke="#474747" stroke-width="1.15" fill="none"/>
<path d="M399.70,77.30 L399.70,81.30 M397.95,78.30 L401.45,80.30 M397.95,80.30 L401.45,78.30" stroke="#474747" stroke-width="1.15" fill="none"/>
<path d="M404.65,77.30 L404.65,81.30 M402.90,78.30 L406.40,80.30 M402.90,80.30 L406.40,78.30" stroke="#474747" stroke-width="1.15" fill="none"/>
<path d="M416.65,53.90 L416.65,57.90 M414.90,54.90 L418.40,56.90 M414.90,56.90 L418.40,54.90" stroke="#474747" stroke-width="1.15" fill="none"/>
<path d="M421.60,53.90 L421.60,57.90 M419.85,54.90 L423.35,56.90 M419.85,56.90 L423.35,54.90" stroke="#474747" stroke-width="1.15" fill="none"/>
<path d="M426.55,53.90 L426.55,57.90 M424.80,54.90 L428.30,56.90 M424.80,56.90 L428.30,54.90" stroke="#474747" stroke-width="1.15" fill="none"/>
<line x1="250.6" y1="64.3" x2="267.6" y2="64.3" stroke="#ababab" stroke-width="1.6"/>
<circle cx="259.00" cy="64.30" r="2.2" fill="none" stroke="#111" stroke-width="1.0"/>
<line x1="250.6" y1="77.5" x2="267.6" y2="77.5" stroke="#e2464b" stroke-width="1.8"/>
<path d="M256.60,79.40 L261.40,79.40 L259.00,75.10 Z" fill="#fff" stroke="#111" stroke-width="1.0"/>
<text x="272.2" y="67.2" font-size="7.9" font-weight="bold" font-style="italic" textLength="17.9" lengthAdjust="spacingAndGlyphs" fill="#111" stroke="#111" stroke-width="0.1">Chm</text>
<text x="292.3" y="64.2" font-size="4.4" font-weight="bold" font-style="italic" textLength="5.8" lengthAdjust="spacingAndGlyphs" fill="#111" stroke="#111" stroke-width="0.1">fly</text>
<text x="272.2" y="79.8" font-size="7.9" font-weight="bold" font-style="italic" textLength="17.9" lengthAdjust="spacingAndGlyphs" fill="#d5302a" stroke="#d5302a" stroke-width="0.1">Chm</text>
<text x="292.3" y="76.8" font-size="4.4" font-weight="bold" font-style="italic" textLength="5.8" lengthAdjust="spacingAndGlyphs" fill="#d5302a" stroke="#d5302a" stroke-width="0.1">fly</text>
<text x="297.1" y="79.8" font-size="7.9" font-weight="bold" font-style="italic" textLength="38.2" lengthAdjust="spacingAndGlyphs" fill="#d5302a" stroke="#d5302a" stroke-width="0.1">, Six3-Cre</text>
<line x1="479.6" y1="51.95" x2="479.6" y2="189.0" stroke="#000" stroke-width="1.5"/>
<line x1="478.85" y1="188.3" x2="683.7" y2="188.3" stroke="#000" stroke-width="1.5"/>
<line x1="476.40000000000003" y1="188.3" x2="479.6" y2="188.3" stroke="#111" stroke-width="1.3"/>
<text x="474.6" y="192.60000000000002" font-size="10.1" font-weight="bold" text-anchor="end" textLength="5.533333333333334" lengthAdjust="spacingAndGlyphs" fill="#111" stroke="#111" stroke-width="0.2">0</text>
<line x1="476.40000000000003" y1="154.3375" x2="479.6" y2="154.3375" stroke="#111" stroke-width="1.3"/>
<text x="474.6" y="158.63750000000002" font-size="10.1" font-weight="bold" text-anchor="end" textLength="16.6" lengthAdjust="spacingAndGlyphs" fill="#111" stroke="#111" stroke-width="0.2">200</text>
<line x1="476.40000000000003" y1="120.375" x2="479.6" y2="120.375" stroke="#111" stroke-width="1.3"/>
<text x="474.6" y="124.675" font-size="10.1" font-weight="bold" text-anchor="end" textLength="16.6" lengthAdjust="spacingAndGlyphs" fill="#111" stroke="#111" stroke-width="0.2">400</text>
<line x1="476.40000000000003" y1="86.4125" x2="479.6" y2="86.4125" stroke="#111" stroke-width="1.3"/>
<text x="474.6" y="90.71249999999999" font-size="10.1" font-weight="bold" text-anchor="end" textLength="16.6" lengthAdjust="spacingAndGlyphs" fill="#111" stroke="#111" stroke-width="0.2">600</text>
<line x1="476.40000000000003" y1="52.44999999999999" x2="479.6" y2="52.44999999999999" stroke="#111" stroke-width="1.3"/>
<text x="474.6" y="56.749999999999986" font-size="10.1" font-weight="bold" text-anchor="end" textLength="16.6" lengthAdjust="spacingAndGlyphs" fill="#111" stroke="#111" stroke-width="0.2">800</text>
<line x1="493.9" y1="188.3" x2="493.9" y2="191.10000000000002" stroke="#111" stroke-width="1.3"/>
<text transform="translate(500.00,198.40) rotate(-45)" font-size="10.7" font-weight="bold" text-anchor="end" fill="#111" stroke="#111" stroke-width="0.3" textLength="25.02" lengthAdjust="spacingAndGlyphs">0.001</text>
<line x1="515.8" y1="188.3" x2="515.8" y2="191.10000000000002" stroke="#111" stroke-width="1.3"/>
<text transform="translate(521.90,198.40) rotate(-45)" font-size="10.7" font-weight="bold" text-anchor="end" fill="#111" stroke="#111" stroke-width="0.3" textLength="25.02" lengthAdjust="spacingAndGlyphs">0.003</text>
<line x1="537.6999999999999" y1="188.3" x2="537.6999999999999" y2="191.10000000000002" stroke="#111" stroke-width="1.3"/>
<text transform="translate(543.80,198.40) rotate(-45)" font-size="10.7" font-weight="bold" text-anchor="end" fill="#111" stroke="#111" stroke-width="0.3" textLength="19.46" lengthAdjust="spacingAndGlyphs">0.01</text>
<line x1="559.5999999999999" y1="188.3" x2="559.5999999999999" y2="191.10000000000002" stroke="#111" stroke-width="1.3"/>
<text transform="translate(565.70,198.40) rotate(-45)" font-size="10.7" font-weight="bold" text-anchor="end" fill="#111" stroke="#111" stroke-width="0.3" textLength="19.46" lengthAdjust="spacingAndGlyphs">0.03</text>
<line x1="581.5" y1="188.3" x2="581.5" y2="191.10000000000002" stroke="#111" stroke-width="1.3"/>
<text transform="translate(587.60,198.40) rotate(-45)" font-size="10.7" font-weight="bold" text-anchor="end" fill="#111" stroke="#111" stroke-width="0.3" textLength="13.90" lengthAdjust="spacingAndGlyphs">0.1</text>
<line x1="603.4" y1="188.3" x2="603.4" y2="191.10000000000002" stroke="#111" stroke-width="1.3"/>
<text transform="translate(609.50,198.40) rotate(-45)" font-size="10.7" font-weight="bold" text-anchor="end" fill="#111" stroke="#111" stroke-width="0.3" textLength="13.90" lengthAdjust="spacingAndGlyphs">0.3</text>
<line x1="625.3" y1="188.3" x2="625.3" y2="191.10000000000002" stroke="#111" stroke-width="1.3"/>
<text transform="translate(631.40,198.40) rotate(-45)" font-size="10.7" font-weight="bold" text-anchor="end" fill="#111" stroke="#111" stroke-width="0.3" textLength="13.90" lengthAdjust="spacingAndGlyphs">1.0</text>
<line x1="647.1999999999999" y1="188.3" x2="647.1999999999999" y2="191.10000000000002" stroke="#111" stroke-width="1.3"/>
<text transform="translate(653.30,198.40) rotate(-45)" font-size="10.7" font-weight="bold" text-anchor="end" fill="#111" stroke="#111" stroke-width="0.3" textLength="13.90" lengthAdjust="spacingAndGlyphs">3.0</text>
<line x1="669.0999999999999" y1="188.3" x2="669.0999999999999" y2="191.10000000000002" stroke="#111" stroke-width="1.3"/>
<text transform="translate(675.20,198.40) rotate(-45)" font-size="10.7" font-weight="bold" text-anchor="end" fill="#111" stroke="#111" stroke-width="0.3" textLength="19.46" lengthAdjust="spacingAndGlyphs">10.0</text>
<text x="576.0" y="43.5" font-size="12.6" font-weight="bold" text-anchor="middle" textLength="40.6" lengthAdjust="spacingAndGlyphs" fill="#111" stroke="#111" stroke-width="0.22">b-wave</text>
<text transform="translate(452.30,158.20) rotate(-90)" font-size="10.6" font-weight="bold" fill="#111" stroke="#111" stroke-width="0.2" textLength="53.2" lengthAdjust="spacingAndGlyphs">Amplitude</text>
<text transform="translate(452.30,101.00) rotate(-90)" font-size="10.6" font-weight="bold" fill="#111" stroke="#111" stroke-width="0.2" textLength="20.0" lengthAdjust="spacingAndGlyphs">(µV)</text>
<text x="525.5" y="228.6" font-size="10.6" font-weight="bold" fill="#111" stroke="#111" stroke-width="0.22">Light intensity(cd·s/m<tspan font-size="5.8" dy="-3.6">2</tspan><tspan dy="3.6">)</tspan></text>
<polyline points="493.9,173.4 515.8,171.9 537.7,153.2 559.6,137.1 581.5,133.1 603.4,125.8 625.3,110.9 647.2,102.2 669.1,91.2" fill="none" stroke="#ababab" stroke-width="1.7" stroke-linejoin="round" stroke-linecap="round"/>
<polyline points="493.9,183.6 515.8,184.8 537.7,182.7 559.6,182.9 581.5,180.5 603.4,181.6 625.3,179.3 647.2,176.2 669.1,175.6" fill="none" stroke="#e2464b" stroke-width="1.8" stroke-linejoin="round" stroke-linecap="round"/>
<circle cx="493.90" cy="173.40" r="2.3" fill="none" stroke="#111" stroke-width="1.15"/>
<line x1="515.8" y1="168.0" x2="515.8" y2="175.6" stroke="#111" stroke-width="1.1"/>
<line x1="513.5" y1="168.0" x2="518.0999999999999" y2="168.0" stroke="#111" stroke-width="0.95"/>
<line x1="513.5" y1="175.6" x2="518.0999999999999" y2="175.6" stroke="#111" stroke-width="0.95"/>
<circle cx="515.80" cy="171.90" r="2.3" fill="none" stroke="#111" stroke-width="1.15"/>
<line x1="537.6999999999999" y1="149.0" x2="537.6999999999999" y2="157.2" stroke="#111" stroke-width="1.1"/>
<line x1="535.4" y1="149.0" x2="539.9999999999999" y2="149.0" stroke="#111" stroke-width="0.95"/>
<line x1="535.4" y1="157.2" x2="539.9999999999999" y2="157.2" stroke="#111" stroke-width="0.95"/>
<circle cx="537.70" cy="153.20" r="2.3" fill="none" stroke="#111" stroke-width="1.15"/>
<line x1="559.5999999999999" y1="134.4" x2="559.5999999999999" y2="139.8" stroke="#111" stroke-width="1.1"/>
<line x1="557.3" y1="134.4" x2="561.8999999999999" y2="134.4" stroke="#111" stroke-width="0.95"/>
<line x1="557.3" y1="139.8" x2="561.8999999999999" y2="139.8" stroke="#111" stroke-width="0.95"/>
<circle cx="559.60" cy="137.10" r="2.3" fill="none" stroke="#111" stroke-width="1.15"/>
<line x1="581.5" y1="128.5" x2="581.5" y2="137.9" stroke="#111" stroke-width="1.1"/>
<line x1="579.2" y1="128.5" x2="583.8" y2="128.5" stroke="#111" stroke-width="0.95"/>
<line x1="579.2" y1="137.9" x2="583.8" y2="137.9" stroke="#111" stroke-width="0.95"/>
<circle cx="581.50" cy="133.10" r="2.3" fill="none" stroke="#111" stroke-width="1.15"/>
<line x1="603.4" y1="120.3" x2="603.4" y2="131.0" stroke="#111" stroke-width="1.1"/>
<line x1="601.1" y1="120.3" x2="605.6999999999999" y2="120.3" stroke="#111" stroke-width="0.95"/>
<line x1="601.1" y1="131.0" x2="605.6999999999999" y2="131.0" stroke="#111" stroke-width="0.95"/>
<circle cx="603.40" cy="125.80" r="2.3" fill="none" stroke="#111" stroke-width="1.15"/>
<line x1="625.3" y1="104.2" x2="625.3" y2="117.5" stroke="#111" stroke-width="1.1"/>
<line x1="623.0" y1="104.2" x2="627.5999999999999" y2="104.2" stroke="#111" stroke-width="0.95"/>
<line x1="623.0" y1="117.5" x2="627.5999999999999" y2="117.5" stroke="#111" stroke-width="0.95"/>
<circle cx="625.30" cy="110.90" r="2.3" fill="none" stroke="#111" stroke-width="1.15"/>
<line x1="647.1999999999999" y1="96.8" x2="647.1999999999999" y2="107.5" stroke="#111" stroke-width="1.1"/>
<line x1="644.9" y1="96.8" x2="649.4999999999999" y2="96.8" stroke="#111" stroke-width="0.95"/>
<line x1="644.9" y1="107.5" x2="649.4999999999999" y2="107.5" stroke="#111" stroke-width="0.95"/>
<circle cx="647.20" cy="102.20" r="2.3" fill="none" stroke="#111" stroke-width="1.15"/>
<line x1="669.0999999999999" y1="86.4" x2="669.0999999999999" y2="96.0" stroke="#111" stroke-width="1.1"/>
<line x1="666.8" y1="86.4" x2="671.3999999999999" y2="86.4" stroke="#111" stroke-width="0.95"/>
<line x1="666.8" y1="96.0" x2="671.3999999999999" y2="96.0" stroke="#111" stroke-width="0.95"/>
<circle cx="669.10" cy="91.20" r="2.3" fill="none" stroke="#111" stroke-width="1.15"/>
<line x1="493.9" y1="182.0" x2="493.9" y2="185.2" stroke="#111" stroke-width="1.1"/>
<line x1="491.59999999999997" y1="182.0" x2="496.2" y2="182.0" stroke="#111" stroke-width="0.95"/>
<line x1="491.59999999999997" y1="185.2" x2="496.2" y2="185.2" stroke="#111" stroke-width="0.95"/>
<path d="M491.60,185.50 L496.20,185.50 L493.90,181.10 Z" fill="none" stroke="#111" stroke-width="1.05" stroke-linejoin="miter"/>
<line x1="515.8" y1="183.2" x2="515.8" y2="186.4" stroke="#111" stroke-width="1.1"/>
<line x1="513.5" y1="183.2" x2="518.0999999999999" y2="183.2" stroke="#111" stroke-width="0.95"/>
<line x1="513.5" y1="186.4" x2="518.0999999999999" y2="186.4" stroke="#111" stroke-width="0.95"/>
<path d="M513.50,186.70 L518.10,186.70 L515.80,182.30 Z" fill="none" stroke="#111" stroke-width="1.05" stroke-linejoin="miter"/>
<line x1="537.6999999999999" y1="181.1" x2="537.6999999999999" y2="184.3" stroke="#111" stroke-width="1.1"/>
<line x1="535.4" y1="181.1" x2="539.9999999999999" y2="181.1" stroke="#111" stroke-width="0.95"/>
<line x1="535.4" y1="184.3" x2="539.9999999999999" y2="184.3" stroke="#111" stroke-width="0.95"/>
<path d="M535.40,184.60 L540.00,184.60 L537.70,180.20 Z" fill="none" stroke="#111" stroke-width="1.05" stroke-linejoin="miter"/>
<line x1="559.5999999999999" y1="181.3" x2="559.5999999999999" y2="184.5" stroke="#111" stroke-width="1.1"/>
<line x1="557.3" y1="181.3" x2="561.8999999999999" y2="181.3" stroke="#111" stroke-width="0.95"/>
<line x1="557.3" y1="184.5" x2="561.8999999999999" y2="184.5" stroke="#111" stroke-width="0.95"/>
<path d="M557.30,184.80 L561.90,184.80 L559.60,180.40 Z" fill="none" stroke="#111" stroke-width="1.05" stroke-linejoin="miter"/>
<line x1="581.5" y1="178.3" x2="581.5" y2="182.4" stroke="#111" stroke-width="1.1"/>
<line x1="579.2" y1="178.3" x2="583.8" y2="178.3" stroke="#111" stroke-width="0.95"/>
<line x1="579.2" y1="182.4" x2="583.8" y2="182.4" stroke="#111" stroke-width="0.95"/>
<path d="M579.20,182.40 L583.80,182.40 L581.50,178.00 Z" fill="none" stroke="#111" stroke-width="1.05" stroke-linejoin="miter"/>
<line x1="603.4" y1="180.0" x2="603.4" y2="183.2" stroke="#111" stroke-width="1.1"/>
<line x1="601.1" y1="180.0" x2="605.6999999999999" y2="180.0" stroke="#111" stroke-width="0.95"/>
<line x1="601.1" y1="183.2" x2="605.6999999999999" y2="183.2" stroke="#111" stroke-width="0.95"/>
<path d="M601.10,183.50 L605.70,183.50 L603.40,179.10 Z" fill="none" stroke="#111" stroke-width="1.05" stroke-linejoin="miter"/>
<line x1="625.3" y1="177.5" x2="625.3" y2="181.0" stroke="#111" stroke-width="1.1"/>
<line x1="623.0" y1="177.5" x2="627.5999999999999" y2="177.5" stroke="#111" stroke-width="0.95"/>
<line x1="623.0" y1="181.0" x2="627.5999999999999" y2="181.0" stroke="#111" stroke-width="0.95"/>
<path d="M623.00,181.20 L627.60,181.20 L625.30,176.80 Z" fill="none" stroke="#111" stroke-width="1.05" stroke-linejoin="miter"/>
<line x1="647.1999999999999" y1="173.3" x2="647.1999999999999" y2="178.3" stroke="#111" stroke-width="1.1"/>
<line x1="644.9" y1="173.3" x2="649.4999999999999" y2="173.3" stroke="#111" stroke-width="0.95"/>
<line x1="644.9" y1="178.3" x2="649.4999999999999" y2="178.3" stroke="#111" stroke-width="0.95"/>
<path d="M644.90,178.10 L649.50,178.10 L647.20,173.70 Z" fill="none" stroke="#111" stroke-width="1.05" stroke-linejoin="miter"/>
<line x1="669.0999999999999" y1="173.3" x2="669.0999999999999" y2="177.6" stroke="#111" stroke-width="1.1"/>
<line x1="666.8" y1="173.3" x2="671.3999999999999" y2="173.3" stroke="#111" stroke-width="0.95"/>
<line x1="666.8" y1="177.6" x2="671.3999999999999" y2="177.6" stroke="#111" stroke-width="0.95"/>
<path d="M666.80,177.50 L671.40,177.50 L669.10,173.10 Z" fill="none" stroke="#111" stroke-width="1.05" stroke-linejoin="miter"/>
<path d="M488.95,162.10 L488.95,166.10 M487.20,163.10 L490.70,165.10 M487.20,165.10 L490.70,163.10" stroke="#474747" stroke-width="1.15" fill="none"/>
<path d="M493.90,162.10 L493.90,166.10 M492.15,163.10 L495.65,165.10 M492.15,165.10 L495.65,163.10" stroke="#474747" stroke-width="1.15" fill="none"/>
<path d="M498.85,162.10 L498.85,166.10 M497.10,163.10 L500.60,165.10 M497.10,165.10 L500.60,163.10" stroke="#474747" stroke-width="1.15" fill="none"/>
<path d="M510.85,158.80 L510.85,162.80 M509.10,159.80 L512.60,161.80 M509.10,161.80 L512.60,159.80" stroke="#474747" stroke-width="1.15" fill="none"/>
<path d="M515.80,158.80 L515.80,162.80 M514.05,159.80 L517.55,161.80 M514.05,161.80 L517.55,159.80" stroke="#474747" stroke-width="1.15" fill="none"/>
<path d="M520.75,158.80 L520.75,162.80 M519.00,159.80 L522.50,161.80 M519.00,161.80 L522.50,159.80" stroke="#474747" stroke-width="1.15" fill="none"/>
<path d="M532.75,140.70 L532.75,144.70 M531.00,141.70 L534.50,143.70 M531.00,143.70 L534.50,141.70" stroke="#474747" stroke-width="1.15" fill="none"/>
<path d="M537.70,140.70 L537.70,144.70 M535.95,141.70 L539.45,143.70 M535.95,143.70 L539.45,141.70" stroke="#474747" stroke-width="1.15" fill="none"/>
<path d="M542.65,140.70 L542.65,144.70 M540.90,141.70 L544.40,143.70 M540.90,143.70 L544.40,141.70" stroke="#474747" stroke-width="1.15" fill="none"/>
<path d="M554.65,124.30 L554.65,128.30 M552.90,125.30 L556.40,127.30 M552.90,127.30 L556.40,125.30" stroke="#474747" stroke-width="1.15" fill="none"/>
<path d="M559.60,124.30 L559.60,128.30 M557.85,125.30 L561.35,127.30 M557.85,127.30 L561.35,125.30" stroke="#474747" stroke-width="1.15" fill="none"/>
<path d="M564.55,124.30 L564.55,128.30 M562.80,125.30 L566.30,127.30 M562.80,127.30 L566.30,125.30" stroke="#474747" stroke-width="1.15" fill="none"/>
<path d="M576.55,119.60 L576.55,123.60 M574.80,120.60 L578.30,122.60 M574.80,122.60 L578.30,120.60" stroke="#474747" stroke-width="1.15" fill="none"/>
<path d="M581.50,119.60 L581.50,123.60 M579.75,120.60 L583.25,122.60 M579.75,122.60 L583.25,120.60" stroke="#474747" stroke-width="1.15" fill="none"/>
<path d="M586.45,119.60 L586.45,123.60 M584.70,120.60 L588.20,122.60 M584.70,122.60 L588.20,120.60" stroke="#474747" stroke-width="1.15" fill="none"/>
<path d="M598.45,110.90 L598.45,114.90 M596.70,111.90 L600.20,113.90 M596.70,113.90 L600.20,111.90" stroke="#474747" stroke-width="1.15" fill="none"/>
<path d="M603.40,110.90 L603.40,114.90 M601.65,111.90 L605.15,113.90 M601.65,113.90 L605.15,111.90" stroke="#474747" stroke-width="1.15" fill="none"/>
<path d="M608.35,110.90 L608.35,114.90 M606.60,111.90 L610.10,113.90 M606.60,113.90 L610.10,111.90" stroke="#474747" stroke-width="1.15" fill="none"/>
<path d="M620.35,96.50 L620.35,100.50 M618.60,97.50 L622.10,99.50 M618.60,99.50 L622.10,97.50" stroke="#474747" stroke-width="1.15" fill="none"/>
<path d="M625.30,96.50 L625.30,100.50 M623.55,97.50 L627.05,99.50 M623.55,99.50 L627.05,97.50" stroke="#474747" stroke-width="1.15" fill="none"/>
<path d="M630.25,96.50 L630.25,100.50 M628.50,97.50 L632.00,99.50 M628.50,99.50 L632.00,97.50" stroke="#474747" stroke-width="1.15" fill="none"/>
<path d="M642.25,88.80 L642.25,92.80 M640.50,89.80 L644.00,91.80 M640.50,91.80 L644.00,89.80" stroke="#474747" stroke-width="1.15" fill="none"/>
<path d="M647.20,88.80 L647.20,92.80 M645.45,89.80 L648.95,91.80 M645.45,91.80 L648.95,89.80" stroke="#474747" stroke-width="1.15" fill="none"/>
<path d="M652.15,88.80 L652.15,92.80 M650.40,89.80 L653.90,91.80 M650.40,91.80 L653.90,89.80" stroke="#474747" stroke-width="1.15" fill="none"/>
<path d="M664.15,77.10 L664.15,81.10 M662.40,78.10 L665.90,80.10 M662.40,80.10 L665.90,78.10" stroke="#474747" stroke-width="1.15" fill="none"/>
<path d="M669.10,77.10 L669.10,81.10 M667.35,78.10 L670.85,80.10 M667.35,80.10 L670.85,78.10" stroke="#474747" stroke-width="1.15" fill="none"/>
<path d="M674.05,77.10 L674.05,81.10 M672.30,78.10 L675.80,80.10 M672.30,80.10 L675.80,78.10" stroke="#474747" stroke-width="1.15" fill="none"/>
<line x1="498.1" y1="64.9" x2="515.1" y2="64.9" stroke="#ababab" stroke-width="1.6"/>
<circle cx="506.50" cy="64.90" r="2.2" fill="none" stroke="#111" stroke-width="1.0"/>
<line x1="498.1" y1="78.5" x2="515.1" y2="78.5" stroke="#e2464b" stroke-width="1.8"/>
<path d="M504.10,80.40 L508.90,80.40 L506.50,76.10 Z" fill="#fff" stroke="#111" stroke-width="1.0"/>
<text x="519.7" y="67.80000000000001" font-size="7.9" font-weight="bold" font-style="italic" textLength="17.9" lengthAdjust="spacingAndGlyphs" fill="#111" stroke="#111" stroke-width="0.1">Chm</text>
<text x="539.8" y="64.80000000000001" font-size="4.4" font-weight="bold" font-style="italic" textLength="5.8" lengthAdjust="spacingAndGlyphs" fill="#111" stroke="#111" stroke-width="0.1">fly</text>
<text x="519.7" y="80.8" font-size="7.9" font-weight="bold" font-style="italic" textLength="17.9" lengthAdjust="spacingAndGlyphs" fill="#d5302a" stroke="#d5302a" stroke-width="0.1">Chm</text>
<text x="539.8" y="77.8" font-size="4.4" font-weight="bold" font-style="italic" textLength="5.8" lengthAdjust="spacingAndGlyphs" fill="#d5302a" stroke="#d5302a" stroke-width="0.1">fly</text>
<text x="544.6" y="80.8" font-size="7.9" font-weight="bold" font-style="italic" textLength="38.2" lengthAdjust="spacingAndGlyphs" fill="#d5302a" stroke="#d5302a" stroke-width="0.1">, Six3-Cre</text>
<line x1="232.0" y1="289.95" x2="232.0" y2="427.09999999999997" stroke="#000" stroke-width="1.5"/>
<line x1="231.25" y1="426.4" x2="434.8" y2="426.4" stroke="#000" stroke-width="1.5"/>
<line x1="228.8" y1="426.4" x2="232.0" y2="426.4" stroke="#111" stroke-width="1.3"/>
<text x="227.0" y="430.7" font-size="10.1" font-weight="bold" text-anchor="end" textLength="5.533333333333334" lengthAdjust="spacingAndGlyphs" fill="#111" stroke="#111" stroke-width="0.2">0</text>
<line x1="228.8" y1="399.21" x2="232.0" y2="399.21" stroke="#111" stroke-width="1.3"/>
<text x="227.0" y="403.51" font-size="10.1" font-weight="bold" text-anchor="end" textLength="11.066666666666668" lengthAdjust="spacingAndGlyphs" fill="#111" stroke="#111" stroke-width="0.2">20</text>
<line x1="228.8" y1="372.02" x2="232.0" y2="372.02" stroke="#111" stroke-width="1.3"/>
<text x="227.0" y="376.32" font-size="10.1" font-weight="bold" text-anchor="end" textLength="11.066666666666668" lengthAdjust="spacingAndGlyphs" fill="#111" stroke="#111" stroke-width="0.2">40</text>
<line x1="228.8" y1="344.83" x2="232.0" y2="344.83" stroke="#111" stroke-width="1.3"/>
<text x="227.0" y="349.13" font-size="10.1" font-weight="bold" text-anchor="end" textLength="11.066666666666668" lengthAdjust="spacingAndGlyphs" fill="#111" stroke="#111" stroke-width="0.2">60</text>
<line x1="228.8" y1="317.64" x2="232.0" y2="317.64" stroke="#111" stroke-width="1.3"/>
<text x="227.0" y="321.94" font-size="10.1" font-weight="bold" text-anchor="end" textLength="11.066666666666668" lengthAdjust="spacingAndGlyphs" fill="#111" stroke="#111" stroke-width="0.2">80</text>
<line x1="228.8" y1="290.45" x2="232.0" y2="290.45" stroke="#111" stroke-width="1.3"/>
<text x="227.0" y="294.75" font-size="10.1" font-weight="bold" text-anchor="end" textLength="16.6" lengthAdjust="spacingAndGlyphs" fill="#111" stroke="#111" stroke-width="0.2">100</text>
<line x1="250.4" y1="426.4" x2="250.4" y2="429.2" stroke="#111" stroke-width="1.3"/>
<text transform="translate(256.50,436.50) rotate(-45)" font-size="10.7" font-weight="bold" text-anchor="end" fill="#111" stroke="#111" stroke-width="0.3" textLength="13.90" lengthAdjust="spacingAndGlyphs">0.1</text>
<line x1="278.25" y1="426.4" x2="278.25" y2="429.2" stroke="#111" stroke-width="1.3"/>
<text transform="translate(284.35,436.50) rotate(-45)" font-size="10.7" font-weight="bold" text-anchor="end" fill="#111" stroke="#111" stroke-width="0.3" textLength="13.90" lengthAdjust="spacingAndGlyphs">0.3</text>
<line x1="306.1" y1="426.4" x2="306.1" y2="429.2" stroke="#111" stroke-width="1.3"/>
<text transform="translate(312.20,436.50) rotate(-45)" font-size="10.7" font-weight="bold" text-anchor="end" fill="#111" stroke="#111" stroke-width="0.3" textLength="13.90" lengthAdjust="spacingAndGlyphs">1.0</text>
<line x1="333.95000000000005" y1="426.4" x2="333.95000000000005" y2="429.2" stroke="#111" stroke-width="1.3"/>
<text transform="translate(340.05,436.50) rotate(-45)" font-size="10.7" font-weight="bold" text-anchor="end" fill="#111" stroke="#111" stroke-width="0.3" textLength="13.90" lengthAdjust="spacingAndGlyphs">3.0</text>
<line x1="361.8" y1="426.4" x2="361.8" y2="429.2" stroke="#111" stroke-width="1.3"/>
<text transform="translate(367.90,436.50) rotate(-45)" font-size="10.7" font-weight="bold" text-anchor="end" fill="#111" stroke="#111" stroke-width="0.3" textLength="19.46" lengthAdjust="spacingAndGlyphs">10.0</text>
<line x1="389.65" y1="426.4" x2="389.65" y2="429.2" stroke="#111" stroke-width="1.3"/>
<text transform="translate(395.75,436.50) rotate(-45)" font-size="10.7" font-weight="bold" text-anchor="end" fill="#111" stroke="#111" stroke-width="0.3" textLength="19.46" lengthAdjust="spacingAndGlyphs">30.0</text>
<line x1="417.5" y1="426.4" x2="417.5" y2="429.2" stroke="#111" stroke-width="1.3"/>
<text transform="translate(423.60,436.50) rotate(-45)" font-size="10.7" font-weight="bold" text-anchor="end" fill="#111" stroke="#111" stroke-width="0.3" textLength="16.68" lengthAdjust="spacingAndGlyphs">100</text>
<text x="329.9" y="285.8" font-size="12.6" font-weight="bold" text-anchor="middle" textLength="40.6" lengthAdjust="spacingAndGlyphs" fill="#111" stroke="#111" stroke-width="0.22">a-wave</text>
<text transform="translate(207.40,396.40) rotate(-90)" font-size="10.6" font-weight="bold" fill="#111" stroke="#111" stroke-width="0.2" textLength="53.2" lengthAdjust="spacingAndGlyphs">Amplitude</text>
<text transform="translate(207.40,339.20) rotate(-90)" font-size="10.6" font-weight="bold" fill="#111" stroke="#111" stroke-width="0.2" textLength="20.0" lengthAdjust="spacingAndGlyphs">(µV)</text>
<text x="278.0" y="466.9" font-size="10.6" font-weight="bold" fill="#111" stroke="#111" stroke-width="0.22">Light intensity(cd·s/m<tspan font-size="5.8" dy="-3.6">2</tspan><tspan dy="3.6">)</tspan></text>
<polyline points="250.4,374.3 278.2,369.2 306.1,368.9 334.0,360.5 361.8,352.3 389.6,330.6 417.5,325.5" fill="none" stroke="#ababab" stroke-width="1.7" stroke-linejoin="round" stroke-linecap="round"/>
<polyline points="250.4,405.9 278.2,402.1 306.1,396.2 334.0,394.9 361.8,389.8 389.6,384.7 417.5,381.7" fill="none" stroke="#e2464b" stroke-width="1.8" stroke-linejoin="round" stroke-linecap="round"/>
<line x1="250.4" y1="368.9" x2="250.4" y2="379.1" stroke="#111" stroke-width="1.1"/>
<line x1="248.1" y1="368.9" x2="252.70000000000002" y2="368.9" stroke="#111" stroke-width="0.95"/>
<line x1="248.1" y1="379.1" x2="252.70000000000002" y2="379.1" stroke="#111" stroke-width="0.95"/>
<circle cx="250.40" cy="374.30" r="2.3" fill="none" stroke="#111" stroke-width="1.15"/>
<line x1="278.25" y1="363.8" x2="278.25" y2="375.3" stroke="#111" stroke-width="1.1"/>
<line x1="275.95" y1="363.8" x2="280.55" y2="363.8" stroke="#111" stroke-width="0.95"/>
<line x1="275.95" y1="375.3" x2="280.55" y2="375.3" stroke="#111" stroke-width="0.95"/>
<circle cx="278.25" cy="369.20" r="2.3" fill="none" stroke="#111" stroke-width="1.15"/>
<line x1="306.1" y1="365.8" x2="306.1" y2="372.5" stroke="#111" stroke-width="1.1"/>
<line x1="303.8" y1="365.8" x2="308.40000000000003" y2="365.8" stroke="#111" stroke-width="0.95"/>
<line x1="303.8" y1="372.5" x2="308.40000000000003" y2="372.5" stroke="#111" stroke-width="0.95"/>
<circle cx="306.10" cy="368.90" r="2.3" fill="none" stroke="#111" stroke-width="1.15"/>
<line x1="333.95000000000005" y1="352.8" x2="333.95000000000005" y2="368.4" stroke="#111" stroke-width="1.1"/>
<line x1="331.65000000000003" y1="352.8" x2="336.25000000000006" y2="352.8" stroke="#111" stroke-width="0.95"/>
<line x1="331.65000000000003" y1="368.4" x2="336.25000000000006" y2="368.4" stroke="#111" stroke-width="0.95"/>
<circle cx="333.95" cy="360.50" r="2.3" fill="none" stroke="#111" stroke-width="1.15"/>
<line x1="361.8" y1="345.4" x2="361.8" y2="359.2" stroke="#111" stroke-width="1.1"/>
<line x1="359.5" y1="345.4" x2="364.1" y2="345.4" stroke="#111" stroke-width="0.95"/>
<line x1="359.5" y1="359.2" x2="364.1" y2="359.2" stroke="#111" stroke-width="0.95"/>
<circle cx="361.80" cy="352.30" r="2.3" fill="none" stroke="#111" stroke-width="1.15"/>
<line x1="389.65" y1="323.5" x2="389.65" y2="337.5" stroke="#111" stroke-width="1.1"/>
<line x1="387.34999999999997" y1="323.5" x2="391.95" y2="323.5" stroke="#111" stroke-width="0.95"/>
<line x1="387.34999999999997" y1="337.5" x2="391.95" y2="337.5" stroke="#111" stroke-width="0.95"/>
<circle cx="389.65" cy="330.60" r="2.3" fill="none" stroke="#111" stroke-width="1.15"/>
<line x1="417.5" y1="321.7" x2="417.5" y2="329.9" stroke="#111" stroke-width="1.1"/>
<line x1="415.2" y1="321.7" x2="419.8" y2="321.7" stroke="#111" stroke-width="0.95"/>
<line x1="415.2" y1="329.9" x2="419.8" y2="329.9" stroke="#111" stroke-width="0.95"/>
<circle cx="417.50" cy="325.50" r="2.3" fill="none" stroke="#111" stroke-width="1.15"/>
<line x1="250.4" y1="402.6" x2="250.4" y2="408.5" stroke="#111" stroke-width="1.1"/>
<line x1="248.1" y1="402.6" x2="252.70000000000002" y2="402.6" stroke="#111" stroke-width="0.95"/>
<line x1="248.1" y1="408.5" x2="252.70000000000002" y2="408.5" stroke="#111" stroke-width="0.95"/>
<path d="M248.10,407.80 L252.70,407.80 L250.40,403.40 Z" fill="none" stroke="#111" stroke-width="1.05" stroke-linejoin="miter"/>
<line x1="278.25" y1="398.3" x2="278.25" y2="404.6" stroke="#111" stroke-width="1.1"/>
<line x1="275.95" y1="398.3" x2="280.55" y2="398.3" stroke="#111" stroke-width="0.95"/>
<line x1="275.95" y1="404.6" x2="280.55" y2="404.6" stroke="#111" stroke-width="0.95"/>
<path d="M275.95,404.00 L280.55,404.00 L278.25,399.60 Z" fill="none" stroke="#111" stroke-width="1.05" stroke-linejoin="miter"/>
<line x1="306.1" y1="392.4" x2="306.1" y2="400.0" stroke="#111" stroke-width="1.1"/>
<line x1="303.8" y1="392.4" x2="308.40000000000003" y2="392.4" stroke="#111" stroke-width="0.95"/>
<line x1="303.8" y1="400.0" x2="308.40000000000003" y2="400.0" stroke="#111" stroke-width="0.95"/>
<path d="M303.80,398.10 L308.40,398.10 L306.10,393.70 Z" fill="none" stroke="#111" stroke-width="1.05" stroke-linejoin="miter"/>
<line x1="333.95000000000005" y1="391.4" x2="333.95000000000005" y2="398.3" stroke="#111" stroke-width="1.1"/>
<line x1="331.65000000000003" y1="391.4" x2="336.25000000000006" y2="391.4" stroke="#111" stroke-width="0.95"/>
<line x1="331.65000000000003" y1="398.3" x2="336.25000000000006" y2="398.3" stroke="#111" stroke-width="0.95"/>
<path d="M331.65,396.80 L336.25,396.80 L333.95,392.40 Z" fill="none" stroke="#111" stroke-width="1.05" stroke-linejoin="miter"/>
<line x1="361.8" y1="386.8" x2="361.8" y2="393.2" stroke="#111" stroke-width="1.1"/>
<line x1="359.5" y1="386.8" x2="364.1" y2="386.8" stroke="#111" stroke-width="0.95"/>
<line x1="359.5" y1="393.2" x2="364.1" y2="393.2" stroke="#111" stroke-width="0.95"/>
<path d="M359.50,391.70 L364.10,391.70 L361.80,387.30 Z" fill="none" stroke="#111" stroke-width="1.05" stroke-linejoin="miter"/>
<line x1="389.65" y1="381.2" x2="389.65" y2="387.5" stroke="#111" stroke-width="1.1"/>
<line x1="387.34999999999997" y1="381.2" x2="391.95" y2="381.2" stroke="#111" stroke-width="0.95"/>
<line x1="387.34999999999997" y1="387.5" x2="391.95" y2="387.5" stroke="#111" stroke-width="0.95"/>
<path d="M387.35,386.60 L391.95,386.60 L389.65,382.20 Z" fill="none" stroke="#111" stroke-width="1.05" stroke-linejoin="miter"/>
<line x1="417.5" y1="378.4" x2="417.5" y2="384.2" stroke="#111" stroke-width="1.1"/>
<line x1="415.2" y1="378.4" x2="419.8" y2="378.4" stroke="#111" stroke-width="0.95"/>
<line x1="415.2" y1="384.2" x2="419.8" y2="384.2" stroke="#111" stroke-width="0.95"/>
<path d="M415.20,383.60 L419.80,383.60 L417.50,379.20 Z" fill="none" stroke="#111" stroke-width="1.05" stroke-linejoin="miter"/>
<path d="M245.45,359.80 L245.45,363.80 M243.70,360.80 L247.20,362.80 M243.70,362.80 L247.20,360.80" stroke="#474747" stroke-width="1.15" fill="none"/>
<path d="M250.40,359.80 L250.40,363.80 M248.65,360.80 L252.15,362.80 M248.65,362.80 L252.15,360.80" stroke="#474747" stroke-width="1.15" fill="none"/>
<path d="M255.35,359.80 L255.35,363.80 M253.60,360.80 L257.10,362.80 M253.60,362.80 L257.10,360.80" stroke="#474747" stroke-width="1.15" fill="none"/>
<path d="M273.30,355.20 L273.30,359.20 M271.55,356.20 L275.05,358.20 M271.55,358.20 L275.05,356.20" stroke="#474747" stroke-width="1.15" fill="none"/>
<path d="M278.25,355.20 L278.25,359.20 M276.50,356.20 L280.00,358.20 M276.50,358.20 L280.00,356.20" stroke="#474747" stroke-width="1.15" fill="none"/>
<path d="M283.20,355.20 L283.20,359.20 M281.45,356.20 L284.95,358.20 M281.45,358.20 L284.95,356.20" stroke="#474747" stroke-width="1.15" fill="none"/>
<path d="M301.15,356.50 L301.15,360.50 M299.40,357.50 L302.90,359.50 M299.40,359.50 L302.90,357.50" stroke="#474747" stroke-width="1.15" fill="none"/>
<path d="M306.10,356.50 L306.10,360.50 M304.35,357.50 L307.85,359.50 M304.35,359.50 L307.85,357.50" stroke="#474747" stroke-width="1.15" fill="none"/>
<path d="M311.05,356.50 L311.05,360.50 M309.30,357.50 L312.80,359.50 M309.30,359.50 L312.80,357.50" stroke="#474747" stroke-width="1.15" fill="none"/>
<path d="M329.00,344.00 L329.00,348.00 M327.25,345.00 L330.75,347.00 M327.25,347.00 L330.75,345.00" stroke="#474747" stroke-width="1.15" fill="none"/>
<path d="M333.95,344.00 L333.95,348.00 M332.20,345.00 L335.70,347.00 M332.20,347.00 L335.70,345.00" stroke="#474747" stroke-width="1.15" fill="none"/>
<path d="M338.90,344.00 L338.90,348.00 M337.15,345.00 L340.65,347.00 M337.15,347.00 L340.65,345.00" stroke="#474747" stroke-width="1.15" fill="none"/>
<path d="M356.85,336.10 L356.85,340.10 M355.10,337.10 L358.60,339.10 M355.10,339.10 L358.60,337.10" stroke="#474747" stroke-width="1.15" fill="none"/>
<path d="M361.80,336.10 L361.80,340.10 M360.05,337.10 L363.55,339.10 M360.05,339.10 L363.55,337.10" stroke="#474747" stroke-width="1.15" fill="none"/>
<path d="M366.75,336.10 L366.75,340.10 M365.00,337.10 L368.50,339.10 M365.00,339.10 L368.50,337.10" stroke="#474747" stroke-width="1.15" fill="none"/>
<path d="M384.70,315.20 L384.70,319.20 M382.95,316.20 L386.45,318.20 M382.95,318.20 L386.45,316.20" stroke="#474747" stroke-width="1.15" fill="none"/>
<path d="M389.65,315.20 L389.65,319.20 M387.90,316.20 L391.40,318.20 M387.90,318.20 L391.40,316.20" stroke="#474747" stroke-width="1.15" fill="none"/>
<path d="M394.60,315.20 L394.60,319.20 M392.85,316.20 L396.35,318.20 M392.85,318.20 L396.35,316.20" stroke="#474747" stroke-width="1.15" fill="none"/>
<path d="M412.55,312.60 L412.55,316.60 M410.80,313.60 L414.30,315.60 M410.80,315.60 L414.30,313.60" stroke="#474747" stroke-width="1.15" fill="none"/>
<path d="M417.50,312.60 L417.50,316.60 M415.75,313.60 L419.25,315.60 M415.75,315.60 L419.25,313.60" stroke="#474747" stroke-width="1.15" fill="none"/>
<path d="M422.45,312.60 L422.45,316.60 M420.70,313.60 L424.20,315.60 M420.70,315.60 L424.20,313.60" stroke="#474747" stroke-width="1.15" fill="none"/>
<line x1="250.5" y1="303.6" x2="267.5" y2="303.6" stroke="#ababab" stroke-width="1.6"/>
<circle cx="258.90" cy="303.60" r="2.2" fill="none" stroke="#111" stroke-width="1.0"/>
<line x1="250.5" y1="316.8" x2="267.5" y2="316.8" stroke="#e2464b" stroke-width="1.8"/>
<path d="M256.50,318.70 L261.30,318.70 L258.90,314.40 Z" fill="#fff" stroke="#111" stroke-width="1.0"/>
<text x="272.09999999999997" y="306.5" font-size="7.9" font-weight="bold" font-style="italic" textLength="17.9" lengthAdjust="spacingAndGlyphs" fill="#111" stroke="#111" stroke-width="0.1">Chm</text>
<text x="292.2" y="303.5" font-size="4.4" font-weight="bold" font-style="italic" textLength="5.8" lengthAdjust="spacingAndGlyphs" fill="#111" stroke="#111" stroke-width="0.1">fly</text>
<text x="272.09999999999997" y="319.1" font-size="7.9" font-weight="bold" font-style="italic" textLength="17.9" lengthAdjust="spacingAndGlyphs" fill="#d5302a" stroke="#d5302a" stroke-width="0.1">Chm</text>
<text x="292.2" y="316.1" font-size="4.4" font-weight="bold" font-style="italic" textLength="5.8" lengthAdjust="spacingAndGlyphs" fill="#d5302a" stroke="#d5302a" stroke-width="0.1">fly</text>
<text x="297.0" y="319.1" font-size="7.9" font-weight="bold" font-style="italic" textLength="38.2" lengthAdjust="spacingAndGlyphs" fill="#d5302a" stroke="#d5302a" stroke-width="0.1">, Six3-Cre</text>
<line x1="479.7" y1="289.9" x2="479.7" y2="427.09999999999997" stroke="#000" stroke-width="1.5"/>
<line x1="478.95" y1="426.4" x2="683.4" y2="426.4" stroke="#000" stroke-width="1.5"/>
<line x1="476.5" y1="426.4" x2="479.7" y2="426.4" stroke="#111" stroke-width="1.3"/>
<text x="474.7" y="430.7" font-size="10.1" font-weight="bold" text-anchor="end" textLength="5.533333333333334" lengthAdjust="spacingAndGlyphs" fill="#111" stroke="#111" stroke-width="0.2">0</text>
<line x1="476.5" y1="399.2" x2="479.7" y2="399.2" stroke="#111" stroke-width="1.3"/>
<text x="474.7" y="403.5" font-size="10.1" font-weight="bold" text-anchor="end" textLength="11.066666666666668" lengthAdjust="spacingAndGlyphs" fill="#111" stroke="#111" stroke-width="0.2">50</text>
<line x1="476.5" y1="372.0" x2="479.7" y2="372.0" stroke="#111" stroke-width="1.3"/>
<text x="474.7" y="376.3" font-size="10.1" font-weight="bold" text-anchor="end" textLength="16.6" lengthAdjust="spacingAndGlyphs" fill="#111" stroke="#111" stroke-width="0.2">100</text>
<line x1="476.5" y1="344.79999999999995" x2="479.7" y2="344.79999999999995" stroke="#111" stroke-width="1.3"/>
<text x="474.7" y="349.09999999999997" font-size="10.1" font-weight="bold" text-anchor="end" textLength="16.6" lengthAdjust="spacingAndGlyphs" fill="#111" stroke="#111" stroke-width="0.2">150</text>
<line x1="476.5" y1="317.59999999999997" x2="479.7" y2="317.59999999999997" stroke="#111" stroke-width="1.3"/>
<text x="474.7" y="321.9" font-size="10.1" font-weight="bold" text-anchor="end" textLength="16.6" lengthAdjust="spacingAndGlyphs" fill="#111" stroke="#111" stroke-width="0.2">200</text>
<line x1="476.5" y1="290.4" x2="479.7" y2="290.4" stroke="#111" stroke-width="1.3"/>
<text x="474.7" y="294.7" font-size="10.1" font-weight="bold" text-anchor="end" textLength="16.6" lengthAdjust="spacingAndGlyphs" fill="#111" stroke="#111" stroke-width="0.2">250</text>
<line x1="497.9" y1="426.4" x2="497.9" y2="429.2" stroke="#111" stroke-width="1.3"/>
<text transform="translate(504.00,436.50) rotate(-45)" font-size="10.7" font-weight="bold" text-anchor="end" fill="#111" stroke="#111" stroke-width="0.3" textLength="13.90" lengthAdjust="spacingAndGlyphs">0.1</text>
<line x1="525.73" y1="426.4" x2="525.73" y2="429.2" stroke="#111" stroke-width="1.3"/>
<text transform="translate(531.83,436.50) rotate(-45)" font-size="10.7" font-weight="bold" text-anchor="end" fill="#111" stroke="#111" stroke-width="0.3" textLength="13.90" lengthAdjust="spacingAndGlyphs">0.3</text>
<line x1="553.56" y1="426.4" x2="553.56" y2="429.2" stroke="#111" stroke-width="1.3"/>
<text transform="translate(559.66,436.50) rotate(-45)" font-size="10.7" font-weight="bold" text-anchor="end" fill="#111" stroke="#111" stroke-width="0.3" textLength="13.90" lengthAdjust="spacingAndGlyphs">1.0</text>
<line x1="581.39" y1="426.4" x2="581.39" y2="429.2" stroke="#111" stroke-width="1.3"/>
<text transform="translate(587.49,436.50) rotate(-45)" font-size="10.7" font-weight="bold" text-anchor="end" fill="#111" stroke="#111" stroke-width="0.3" textLength="13.90" lengthAdjust="spacingAndGlyphs">3.0</text>
<line x1="609.22" y1="426.4" x2="609.22" y2="429.2" stroke="#111" stroke-width="1.3"/>
<text transform="translate(615.32,436.50) rotate(-45)" font-size="10.7" font-weight="bold" text-anchor="end" fill="#111" stroke="#111" stroke-width="0.3" textLength="19.46" lengthAdjust="spacingAndGlyphs">10.0</text>
<line x1="637.05" y1="426.4" x2="637.05" y2="429.2" stroke="#111" stroke-width="1.3"/>
<text transform="translate(643.15,436.50) rotate(-45)" font-size="10.7" font-weight="bold" text-anchor="end" fill="#111" stroke="#111" stroke-width="0.3" textLength="19.46" lengthAdjust="spacingAndGlyphs">30.0</text>
<line x1="664.88" y1="426.4" x2="664.88" y2="429.2" stroke="#111" stroke-width="1.3"/>
<text transform="translate(670.98,436.50) rotate(-45)" font-size="10.7" font-weight="bold" text-anchor="end" fill="#111" stroke="#111" stroke-width="0.3" textLength="16.68" lengthAdjust="spacingAndGlyphs">100</text>
<text x="576.0" y="285.8" font-size="12.6" font-weight="bold" text-anchor="middle" textLength="40.6" lengthAdjust="spacingAndGlyphs" fill="#111" stroke="#111" stroke-width="0.22">b-wave</text>
<text transform="translate(452.30,396.40) rotate(-90)" font-size="10.6" font-weight="bold" fill="#111" stroke="#111" stroke-width="0.2" textLength="53.2" lengthAdjust="spacingAndGlyphs">Amplitude</text>
<text transform="translate(452.30,339.20) rotate(-90)" font-size="10.6" font-weight="bold" fill="#111" stroke="#111" stroke-width="0.2" textLength="20.0" lengthAdjust="spacingAndGlyphs">(µV)</text>
<text x="525.5" y="466.9" font-size="10.6" font-weight="bold" fill="#111" stroke="#111" stroke-width="0.22">Light intensity(cd·s/m<tspan font-size="5.8" dy="-3.6">2</tspan><tspan dy="3.6">)</tspan></text>
<polyline points="497.9,402.5 525.7,401.4 553.6,399.9 581.4,382.7 609.2,360.3 637.0,332.5 664.9,324.2" fill="none" stroke="#ababab" stroke-width="1.7" stroke-linejoin="round" stroke-linecap="round"/>
<polyline points="497.9,409.4 525.7,411.1 553.6,407.3 581.4,407.3 609.2,406.0 637.0,407.3 664.9,407.6" fill="none" stroke="#e2464b" stroke-width="1.8" stroke-linejoin="round" stroke-linecap="round"/>
<line x1="497.9" y1="399.9" x2="497.9" y2="405.0" stroke="#111" stroke-width="1.1"/>
<line x1="495.59999999999997" y1="399.9" x2="500.2" y2="399.9" stroke="#111" stroke-width="0.95"/>
<line x1="495.59999999999997" y1="405.0" x2="500.2" y2="405.0" stroke="#111" stroke-width="0.95"/>
<circle cx="497.90" cy="402.50" r="2.3" fill="none" stroke="#111" stroke-width="1.15"/>
<line x1="525.73" y1="396.1" x2="525.73" y2="406.3" stroke="#111" stroke-width="1.1"/>
<line x1="523.4300000000001" y1="396.1" x2="528.03" y2="396.1" stroke="#111" stroke-width="0.95"/>
<line x1="523.4300000000001" y1="406.3" x2="528.03" y2="406.3" stroke="#111" stroke-width="0.95"/>
<circle cx="525.73" cy="401.40" r="2.3" fill="none" stroke="#111" stroke-width="1.15"/>
<line x1="553.56" y1="397.4" x2="553.56" y2="403.0" stroke="#111" stroke-width="1.1"/>
<line x1="551.26" y1="397.4" x2="555.8599999999999" y2="397.4" stroke="#111" stroke-width="0.95"/>
<line x1="551.26" y1="403.0" x2="555.8599999999999" y2="403.0" stroke="#111" stroke-width="0.95"/>
<circle cx="553.56" cy="399.90" r="2.3" fill="none" stroke="#111" stroke-width="1.15"/>
<line x1="581.39" y1="378.5" x2="581.39" y2="386.5" stroke="#111" stroke-width="1.1"/>
<line x1="579.09" y1="378.5" x2="583.6899999999999" y2="378.5" stroke="#111" stroke-width="0.95"/>
<line x1="579.09" y1="386.5" x2="583.6899999999999" y2="386.5" stroke="#111" stroke-width="0.95"/>
<circle cx="581.39" cy="382.70" r="2.3" fill="none" stroke="#111" stroke-width="1.15"/>
<line x1="609.22" y1="352.3" x2="609.22" y2="368.3" stroke="#111" stroke-width="1.1"/>
<line x1="606.9200000000001" y1="352.3" x2="611.52" y2="352.3" stroke="#111" stroke-width="0.95"/>
<line x1="606.9200000000001" y1="368.3" x2="611.52" y2="368.3" stroke="#111" stroke-width="0.95"/>
<circle cx="609.22" cy="360.30" r="2.3" fill="none" stroke="#111" stroke-width="1.15"/>
<line x1="637.05" y1="327.7" x2="637.05" y2="337.3" stroke="#111" stroke-width="1.1"/>
<line x1="634.75" y1="327.7" x2="639.3499999999999" y2="327.7" stroke="#111" stroke-width="0.95"/>
<line x1="634.75" y1="337.3" x2="639.3499999999999" y2="337.3" stroke="#111" stroke-width="0.95"/>
<circle cx="637.05" cy="332.50" r="2.3" fill="none" stroke="#111" stroke-width="1.15"/>
<line x1="664.88" y1="318.1" x2="664.88" y2="329.9" stroke="#111" stroke-width="1.1"/>
<line x1="662.58" y1="318.1" x2="667.18" y2="318.1" stroke="#111" stroke-width="0.95"/>
<line x1="662.58" y1="329.9" x2="667.18" y2="329.9" stroke="#111" stroke-width="0.95"/>
<circle cx="664.88" cy="324.20" r="2.3" fill="none" stroke="#111" stroke-width="1.15"/>
<line x1="497.9" y1="406.3" x2="497.9" y2="412.4" stroke="#111" stroke-width="1.1"/>
<line x1="495.59999999999997" y1="406.3" x2="500.2" y2="406.3" stroke="#111" stroke-width="0.95"/>
<line x1="495.59999999999997" y1="412.4" x2="500.2" y2="412.4" stroke="#111" stroke-width="0.95"/>
<path d="M495.60,411.30 L500.20,411.30 L497.90,406.90 Z" fill="none" stroke="#bbb" stroke-width="1.05" stroke-linejoin="miter"/>
<line x1="525.73" y1="408.8" x2="525.73" y2="413.2" stroke="#111" stroke-width="1.1"/>
<line x1="523.4300000000001" y1="408.8" x2="528.03" y2="408.8" stroke="#111" stroke-width="0.95"/>
<line x1="523.4300000000001" y1="413.2" x2="528.03" y2="413.2" stroke="#111" stroke-width="0.95"/>
<path d="M523.43,413.00 L528.03,413.00 L525.73,408.60 Z" fill="none" stroke="#bbb" stroke-width="1.05" stroke-linejoin="miter"/>
<line x1="553.56" y1="405.0" x2="553.56" y2="409.4" stroke="#111" stroke-width="1.1"/>
<line x1="551.26" y1="405.0" x2="555.8599999999999" y2="405.0" stroke="#111" stroke-width="0.95"/>
<line x1="551.26" y1="409.4" x2="555.8599999999999" y2="409.4" stroke="#111" stroke-width="0.95"/>
<path d="M551.26,409.20 L555.86,409.20 L553.56,404.80 Z" fill="none" stroke="#bbb" stroke-width="1.05" stroke-linejoin="miter"/>
<line x1="581.39" y1="404.1" x2="581.39" y2="410.4" stroke="#111" stroke-width="1.1"/>
<line x1="579.09" y1="404.1" x2="583.6899999999999" y2="404.1" stroke="#111" stroke-width="0.95"/>
<line x1="579.09" y1="410.4" x2="583.6899999999999" y2="410.4" stroke="#111" stroke-width="0.95"/>
<path d="M579.09,409.20 L583.69,409.20 L581.39,404.80 Z" fill="none" stroke="#bbb" stroke-width="1.05" stroke-linejoin="miter"/>
<line x1="609.22" y1="402.5" x2="609.22" y2="409.8" stroke="#111" stroke-width="1.1"/>
<line x1="606.9200000000001" y1="402.5" x2="611.52" y2="402.5" stroke="#111" stroke-width="0.95"/>
<line x1="606.9200000000001" y1="409.8" x2="611.52" y2="409.8" stroke="#111" stroke-width="0.95"/>
<path d="M606.92,407.90 L611.52,407.90 L609.22,403.50 Z" fill="none" stroke="#bbb" stroke-width="1.05" stroke-linejoin="miter"/>
<line x1="637.05" y1="402.5" x2="637.05" y2="411.4" stroke="#111" stroke-width="1.1"/>
<line x1="634.75" y1="402.5" x2="639.3499999999999" y2="402.5" stroke="#111" stroke-width="0.95"/>
<line x1="634.75" y1="411.4" x2="639.3499999999999" y2="411.4" stroke="#111" stroke-width="0.95"/>
<path d="M634.75,409.20 L639.35,409.20 L637.05,404.80 Z" fill="none" stroke="#bbb" stroke-width="1.05" stroke-linejoin="miter"/>
<line x1="664.88" y1="405.0" x2="664.88" y2="410.1" stroke="#111" stroke-width="1.1"/>
<line x1="662.58" y1="405.0" x2="667.18" y2="405.0" stroke="#111" stroke-width="0.95"/>
<line x1="662.58" y1="410.1" x2="667.18" y2="410.1" stroke="#111" stroke-width="0.95"/>
<path d="M662.58,409.50 L667.18,409.50 L664.88,405.10 Z" fill="none" stroke="#bbb" stroke-width="1.05" stroke-linejoin="miter"/>
<text x="497.9" y="394.90000000000003" font-size="8.8" font-weight="bold" text-anchor="middle" textLength="8.0" lengthAdjust="spacingAndGlyphs" font-family='"Liberation Serif", serif' fill="#111" stroke="#111" stroke-width="0.35">ns</text>
<text x="525.73" y="392.1" font-size="8.8" font-weight="bold" text-anchor="middle" textLength="8.0" lengthAdjust="spacingAndGlyphs" font-family='"Liberation Serif", serif' fill="#111" stroke="#111" stroke-width="0.35">ns</text>
<text x="553.56" y="390.5" font-size="8.8" font-weight="bold" text-anchor="middle" textLength="8.0" lengthAdjust="spacingAndGlyphs" font-family='"Liberation Serif", serif' fill="#111" stroke="#111" stroke-width="0.35">ns</text>
<path d="M576.44,369.90 L576.44,373.90 M574.69,370.90 L578.19,372.90 M574.69,372.90 L578.19,370.90" stroke="#474747" stroke-width="1.15" fill="none"/>
<path d="M581.39,369.90 L581.39,373.90 M579.64,370.90 L583.14,372.90 M579.64,372.90 L583.14,370.90" stroke="#474747" stroke-width="1.15" fill="none"/>
<path d="M586.34,369.90 L586.34,373.90 M584.59,370.90 L588.09,372.90 M584.59,372.90 L588.09,370.90" stroke="#474747" stroke-width="1.15" fill="none"/>
<path d="M604.27,345.30 L604.27,349.30 M602.52,346.30 L606.02,348.30 M602.52,348.30 L606.02,346.30" stroke="#474747" stroke-width="1.15" fill="none"/>
<path d="M609.22,345.30 L609.22,349.30 M607.47,346.30 L610.97,348.30 M607.47,348.30 L610.97,346.30" stroke="#474747" stroke-width="1.15" fill="none"/>
<path d="M614.17,345.30 L614.17,349.30 M612.42,346.30 L615.92,348.30 M612.42,348.30 L615.92,346.30" stroke="#474747" stroke-width="1.15" fill="none"/>
<path d="M632.10,319.80 L632.10,323.80 M630.35,320.80 L633.85,322.80 M630.35,322.80 L633.85,320.80" stroke="#474747" stroke-width="1.15" fill="none"/>
<path d="M637.05,319.80 L637.05,323.80 M635.30,320.80 L638.80,322.80 M635.30,322.80 L638.80,320.80" stroke="#474747" stroke-width="1.15" fill="none"/>
<path d="M642.00,319.80 L642.00,323.80 M640.25,320.80 L643.75,322.80 M640.25,322.80 L643.75,320.80" stroke="#474747" stroke-width="1.15" fill="none"/>
<path d="M659.93,310.20 L659.93,314.20 M658.18,311.20 L661.68,313.20 M658.18,313.20 L661.68,311.20" stroke="#474747" stroke-width="1.15" fill="none"/>
<path d="M664.88,310.20 L664.88,314.20 M663.13,311.20 L666.63,313.20 M663.13,313.20 L666.63,311.20" stroke="#474747" stroke-width="1.15" fill="none"/>
<path d="M669.83,310.20 L669.83,314.20 M668.08,311.20 L671.58,313.20 M668.08,313.20 L671.58,311.20" stroke="#474747" stroke-width="1.15" fill="none"/>
<line x1="498.2" y1="303.2" x2="515.2" y2="303.2" stroke="#ababab" stroke-width="1.6"/>
<circle cx="506.60" cy="303.20" r="2.2" fill="none" stroke="#111" stroke-width="1.0"/>
<line x1="498.2" y1="316.9" x2="515.2" y2="316.9" stroke="#e2464b" stroke-width="1.8"/>
<path d="M504.20,318.80 L509.00,318.80 L506.60,314.50 Z" fill="#fff" stroke="#111" stroke-width="1.0"/>
<text x="519.8000000000001" y="306.09999999999997" font-size="7.9" font-weight="bold" font-style="italic" textLength="17.9" lengthAdjust="spacingAndGlyphs" fill="#111" stroke="#111" stroke-width="0.1">Chm</text>
<text x="539.9" y="303.09999999999997" font-size="4.4" font-weight="bold" font-style="italic" textLength="5.8" lengthAdjust="spacingAndGlyphs" fill="#111" stroke="#111" stroke-width="0.1">fly</text>
<text x="519.8000000000001" y="319.2" font-size="7.9" font-weight="bold" font-style="italic" textLength="17.9" lengthAdjust="spacingAndGlyphs" fill="#d5302a" stroke="#d5302a" stroke-width="0.1">Chm</text>
<text x="539.9" y="316.2" font-size="4.4" font-weight="bold" font-style="italic" textLength="5.8" lengthAdjust="spacingAndGlyphs" fill="#d5302a" stroke="#d5302a" stroke-width="0.1">fly</text>
<text x="544.7" y="319.2" font-size="7.9" font-weight="bold" font-style="italic" textLength="38.2" lengthAdjust="spacingAndGlyphs" fill="#d5302a" stroke="#d5302a" stroke-width="0.1">, Six3-Cre</text>
</svg>
</body></html>
